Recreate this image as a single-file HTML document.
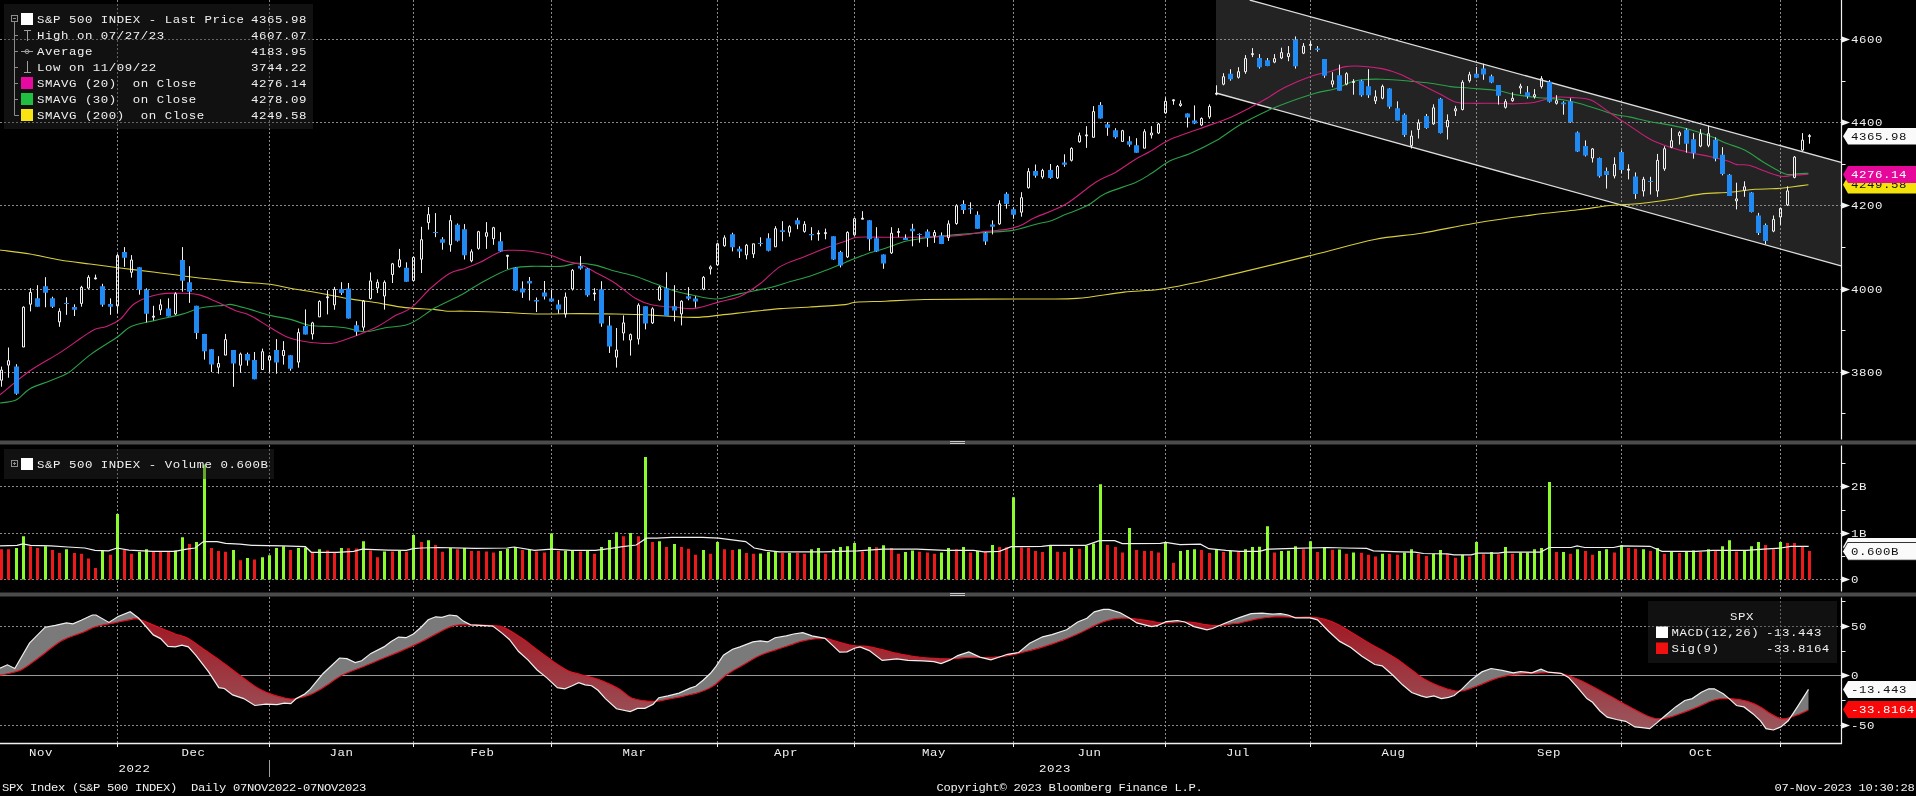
<!DOCTYPE html>
<html><head><meta charset="utf-8"><title>SPX Chart</title>
<style>html,body{margin:0;padding:0;background:#000;overflow:hidden}svg{display:block}text{-webkit-font-smoothing:antialiased}</style>
</head><body>
<svg width="1916" height="796" viewBox="0 0 1916 796" shape-rendering="auto">
<defs>
<linearGradient id="rg" gradientUnits="userSpaceOnUse" x1="0" y1="605" x2="0" y2="735"><stop offset="0" stop-color="#a0101c"/><stop offset="1" stop-color="#9a5a60"/></linearGradient>
<clipPath id="cp_price"><rect x="0" y="0" width="1841" height="440"/></clipPath>
<clipPath id="cp_vol"><rect x="0" y="445" width="1841" height="148"/></clipPath>
<clipPath id="cp_above"><polygon points="-5.0,597.0 -5.0,675.2 0.0,675.2 3.5,674.5 8.6,673.5 14.0,672.2 18.5,670.9 21.7,669.6 24.2,668.1 26.7,666.5 29.5,664.5 32.8,662.1 36.4,659.4 40.3,656.4 44.3,653.4 48.6,650.1 53.2,646.5 58.0,643.1 62.8,640.1 67.9,637.7 73.3,635.7 78.5,633.9 83.1,632.2 86.7,630.6 89.7,629.1 92.6,627.8 96.0,626.6 100.3,625.5 105.1,624.6 110.0,623.7 114.5,622.9 118.6,622.0 122.4,621.2 126.0,620.4 129.2,619.8 131.7,619.3 133.6,618.8 135.7,618.7 138.5,619.2 142.5,620.5 147.1,622.4 152.1,624.6 156.9,626.6 161.6,628.5 166.5,630.5 171.2,632.3 175.4,634.0 179.0,635.2 182.1,636.1 185.1,637.1 188.3,638.6 191.8,640.7 195.4,643.2 199.1,645.9 203.1,648.8 207.5,651.8 212.1,655.0 216.9,658.3 221.6,661.7 226.2,665.1 230.8,668.6 235.4,672.1 240.0,675.5 244.7,679.0 249.5,682.5 254.1,685.7 258.5,688.5 262.5,690.6 266.1,692.3 269.7,693.6 273.3,694.9 277.2,696.1 281.1,697.1 284.8,698.0 288.0,698.6 290.2,699.0 291.7,699.1 293.2,699.0 295.4,698.6 298.6,698.0 302.3,697.1 306.3,696.0 310.2,694.6 313.8,693.0 317.4,691.0 321.0,688.9 324.8,686.6 328.7,684.0 332.7,681.1 336.9,678.2 341.4,675.5 346.2,673.2 351.2,671.2 356.4,669.3 361.7,667.2 367.1,665.0 372.7,662.7 378.3,660.3 383.9,658.0 389.5,655.7 395.2,653.4 400.7,651.1 406.0,648.8 411.0,646.6 415.7,644.4 420.2,642.2 424.5,640.1 428.4,638.0 432.1,636.0 435.6,634.1 439.2,632.2 442.9,630.3 446.5,628.5 450.2,626.9 454.0,625.7 457.9,625.0 461.8,624.8 466.0,624.8 470.6,624.8 476.0,624.9 482.0,625.1 487.9,625.4 492.8,625.7 496.2,625.9 498.6,626.0 500.9,626.4 503.9,627.5 508.0,629.6 512.6,632.3 517.5,635.4 522.3,638.6 526.8,641.8 531.2,645.2 535.8,648.8 540.8,652.5 546.7,656.7 553.1,661.4 559.5,665.7 564.8,669.1 568.6,671.1 571.5,672.1 574.2,672.8 577.7,673.7 582.3,675.0 587.6,676.3 593.0,677.8 598.0,679.3 602.6,681.1 607.2,683.0 611.3,684.9 614.7,686.6 617.1,687.9 618.8,688.8 620.3,689.8 622.0,691.0 624.1,692.6 626.3,694.4 628.6,696.2 631.1,697.7 633.7,698.7 636.4,699.5 639.3,700.0 642.2,700.5 645.3,700.9 648.5,701.3 651.8,701.4 655.1,701.4 658.2,701.1 661.3,700.6 664.5,699.9 668.0,699.2 671.9,698.5 676.2,697.6 680.5,696.8 684.6,695.9 688.5,695.0 692.2,694.2 695.9,693.3 699.4,692.2 702.8,691.0 706.1,689.7 709.2,688.3 712.3,686.6 715.3,684.5 718.2,682.0 720.9,679.5 723.4,677.4 725.3,675.8 726.9,674.6 728.5,673.4 730.8,671.9 734.0,670.0 737.7,667.9 741.7,665.7 745.6,663.5 749.3,661.3 753.0,659.1 756.6,657.0 760.3,655.2 764.0,653.7 767.7,652.4 771.4,651.3 775.1,650.1 778.9,648.8 782.7,647.5 786.5,646.3 789.9,645.1 792.9,644.1 795.5,643.1 798.1,642.2 800.9,641.4 804.1,640.7 807.4,640.0 810.7,639.5 813.9,639.0 816.8,638.6 819.5,638.3 822.1,638.1 825.0,638.3 828.1,638.9 831.2,639.8 834.5,640.9 837.9,641.9 841.4,642.9 845.1,643.9 848.9,644.9 852.6,645.6 856.3,645.9 860.0,646.0 863.7,646.1 867.4,646.4 871.1,647.0 874.8,647.9 878.5,648.8 882.2,649.7 885.8,650.6 889.4,651.6 893.0,652.5 897.0,653.4 901.4,654.3 906.2,655.2 911.0,656.0 915.4,656.7 919.3,657.2 922.8,657.5 926.3,657.8 930.2,658.0 934.5,658.3 939.1,658.6 943.8,658.8 948.5,658.9 953.0,658.7 957.5,658.3 962.0,657.8 966.9,657.5 972.3,657.4 978.0,657.5 983.7,657.6 989.1,657.5 994.0,657.2 998.5,656.8 1003.0,656.3 1007.5,655.6 1012.1,654.8 1016.7,653.8 1021.4,652.6 1026.0,651.5 1030.6,650.3 1035.3,649.1 1039.9,647.8 1044.5,646.4 1049.1,644.9 1053.7,643.4 1058.3,641.8 1062.9,640.1 1067.6,638.2 1072.4,636.2 1077.0,634.2 1081.4,632.2 1085.4,630.2 1089.3,628.3 1092.9,626.4 1096.2,624.8 1099.2,623.5 1101.9,622.3 1104.5,621.4 1107.2,620.5 1110.0,619.8 1112.7,619.1 1115.5,618.6 1118.3,618.3 1121.0,618.1 1123.6,618.0 1126.4,618.1 1129.4,618.3 1132.8,618.6 1136.3,619.1 1140.2,619.6 1144.2,620.2 1148.6,620.9 1153.3,621.7 1158.0,622.5 1162.6,622.9 1167.0,622.9 1171.3,622.6 1175.4,622.2 1179.3,622.0 1182.7,622.0 1185.9,622.0 1188.9,622.1 1192.2,622.4 1195.9,622.9 1199.7,623.6 1203.5,624.3 1207.0,624.8 1209.9,625.2 1212.4,625.5 1215.0,625.7 1218.1,625.7 1222.1,625.3 1226.8,624.7 1231.2,624.0 1234.7,623.5 1236.5,623.3 1237.2,623.3 1238.0,623.3 1240.0,622.9 1243.7,622.0 1248.4,620.9 1253.6,619.7 1258.5,618.7 1263.1,618.0 1267.7,617.5 1272.3,617.0 1276.9,616.8 1281.5,616.8 1286.1,617.0 1290.8,617.2 1295.4,617.4 1300.1,617.4 1304.9,617.2 1309.5,617.2 1313.9,617.4 1317.8,617.9 1321.5,618.5 1325.0,619.4 1328.6,620.5 1332.0,621.8 1335.3,623.2 1338.9,625.0 1343.4,627.5 1349.1,630.9 1355.7,634.9 1362.6,639.2 1369.2,643.2 1375.5,646.7 1381.7,650.1 1387.6,653.4 1393.2,656.7 1398.3,660.1 1403.1,663.6 1407.6,667.0 1411.7,670.0 1415.2,672.6 1418.1,674.9 1421.1,677.1 1424.6,679.2 1428.9,681.5 1433.6,683.8 1438.5,685.9 1443.1,687.6 1447.4,689.0 1451.5,690.2 1455.6,691.0 1459.7,691.2 1463.8,690.6 1467.9,689.4 1472.0,687.9 1476.3,686.3 1480.8,684.6 1485.4,682.6 1490.1,680.6 1494.8,678.9 1499.3,677.5 1503.8,676.4 1508.4,675.4 1513.3,674.6 1518.7,674.1 1524.6,673.7 1530.3,673.5 1535.4,673.3 1539.7,673.0 1543.4,672.8 1546.8,672.6 1550.0,672.6 1552.9,672.6 1555.4,672.8 1558.0,673.1 1561.1,673.7 1564.8,674.7 1568.9,675.9 1573.3,677.5 1577.7,679.2 1582.2,681.2 1586.8,683.6 1591.5,686.0 1596.2,688.5 1600.8,691.0 1605.4,693.5 1610.0,696.0 1614.6,698.6 1619.2,701.2 1623.8,703.8 1628.5,706.3 1633.1,708.8 1637.9,711.3 1642.7,713.8 1647.4,716.0 1651.6,717.6 1655.2,718.5 1658.3,718.8 1661.3,718.8 1664.5,718.4 1668.0,717.7 1671.5,716.7 1675.2,715.4 1679.2,714.0 1683.6,712.4 1688.4,710.6 1693.2,708.7 1697.7,706.9 1701.7,705.1 1705.5,703.4 1709.0,701.8 1712.5,700.5 1715.7,699.6 1718.7,699.0 1721.8,698.7 1725.4,698.6 1729.7,698.7 1734.5,699.1 1739.4,699.7 1743.9,700.5 1747.9,701.6 1751.6,702.9 1755.1,704.3 1758.6,706.0 1762.0,708.0 1765.3,710.2 1768.5,712.4 1771.6,714.3 1774.5,715.9 1777.2,717.3 1779.9,718.3 1782.6,718.9 1785.4,718.8 1788.3,718.1 1791.0,717.1 1793.7,716.2 1796.2,715.3 1798.7,714.4 1801.0,713.4 1803.0,712.5 1804.8,711.7 1806.3,710.9 1807.6,710.2 1808.5,709.7 1813.5,709.7 1813.5,597.0"/></clipPath>
<clipPath id="cp_below"><polygon points="-5.0,744.0 -5.0,675.2 0.0,675.2 3.5,674.5 8.6,673.5 14.0,672.2 18.5,670.9 21.7,669.6 24.2,668.1 26.7,666.5 29.5,664.5 32.8,662.1 36.4,659.4 40.3,656.4 44.3,653.4 48.6,650.1 53.2,646.5 58.0,643.1 62.8,640.1 67.9,637.7 73.3,635.7 78.5,633.9 83.1,632.2 86.7,630.6 89.7,629.1 92.6,627.8 96.0,626.6 100.3,625.5 105.1,624.6 110.0,623.7 114.5,622.9 118.6,622.0 122.4,621.2 126.0,620.4 129.2,619.8 131.7,619.3 133.6,618.8 135.7,618.7 138.5,619.2 142.5,620.5 147.1,622.4 152.1,624.6 156.9,626.6 161.6,628.5 166.5,630.5 171.2,632.3 175.4,634.0 179.0,635.2 182.1,636.1 185.1,637.1 188.3,638.6 191.8,640.7 195.4,643.2 199.1,645.9 203.1,648.8 207.5,651.8 212.1,655.0 216.9,658.3 221.6,661.7 226.2,665.1 230.8,668.6 235.4,672.1 240.0,675.5 244.7,679.0 249.5,682.5 254.1,685.7 258.5,688.5 262.5,690.6 266.1,692.3 269.7,693.6 273.3,694.9 277.2,696.1 281.1,697.1 284.8,698.0 288.0,698.6 290.2,699.0 291.7,699.1 293.2,699.0 295.4,698.6 298.6,698.0 302.3,697.1 306.3,696.0 310.2,694.6 313.8,693.0 317.4,691.0 321.0,688.9 324.8,686.6 328.7,684.0 332.7,681.1 336.9,678.2 341.4,675.5 346.2,673.2 351.2,671.2 356.4,669.3 361.7,667.2 367.1,665.0 372.7,662.7 378.3,660.3 383.9,658.0 389.5,655.7 395.2,653.4 400.7,651.1 406.0,648.8 411.0,646.6 415.7,644.4 420.2,642.2 424.5,640.1 428.4,638.0 432.1,636.0 435.6,634.1 439.2,632.2 442.9,630.3 446.5,628.5 450.2,626.9 454.0,625.7 457.9,625.0 461.8,624.8 466.0,624.8 470.6,624.8 476.0,624.9 482.0,625.1 487.9,625.4 492.8,625.7 496.2,625.9 498.6,626.0 500.9,626.4 503.9,627.5 508.0,629.6 512.6,632.3 517.5,635.4 522.3,638.6 526.8,641.8 531.2,645.2 535.8,648.8 540.8,652.5 546.7,656.7 553.1,661.4 559.5,665.7 564.8,669.1 568.6,671.1 571.5,672.1 574.2,672.8 577.7,673.7 582.3,675.0 587.6,676.3 593.0,677.8 598.0,679.3 602.6,681.1 607.2,683.0 611.3,684.9 614.7,686.6 617.1,687.9 618.8,688.8 620.3,689.8 622.0,691.0 624.1,692.6 626.3,694.4 628.6,696.2 631.1,697.7 633.7,698.7 636.4,699.5 639.3,700.0 642.2,700.5 645.3,700.9 648.5,701.3 651.8,701.4 655.1,701.4 658.2,701.1 661.3,700.6 664.5,699.9 668.0,699.2 671.9,698.5 676.2,697.6 680.5,696.8 684.6,695.9 688.5,695.0 692.2,694.2 695.9,693.3 699.4,692.2 702.8,691.0 706.1,689.7 709.2,688.3 712.3,686.6 715.3,684.5 718.2,682.0 720.9,679.5 723.4,677.4 725.3,675.8 726.9,674.6 728.5,673.4 730.8,671.9 734.0,670.0 737.7,667.9 741.7,665.7 745.6,663.5 749.3,661.3 753.0,659.1 756.6,657.0 760.3,655.2 764.0,653.7 767.7,652.4 771.4,651.3 775.1,650.1 778.9,648.8 782.7,647.5 786.5,646.3 789.9,645.1 792.9,644.1 795.5,643.1 798.1,642.2 800.9,641.4 804.1,640.7 807.4,640.0 810.7,639.5 813.9,639.0 816.8,638.6 819.5,638.3 822.1,638.1 825.0,638.3 828.1,638.9 831.2,639.8 834.5,640.9 837.9,641.9 841.4,642.9 845.1,643.9 848.9,644.9 852.6,645.6 856.3,645.9 860.0,646.0 863.7,646.1 867.4,646.4 871.1,647.0 874.8,647.9 878.5,648.8 882.2,649.7 885.8,650.6 889.4,651.6 893.0,652.5 897.0,653.4 901.4,654.3 906.2,655.2 911.0,656.0 915.4,656.7 919.3,657.2 922.8,657.5 926.3,657.8 930.2,658.0 934.5,658.3 939.1,658.6 943.8,658.8 948.5,658.9 953.0,658.7 957.5,658.3 962.0,657.8 966.9,657.5 972.3,657.4 978.0,657.5 983.7,657.6 989.1,657.5 994.0,657.2 998.5,656.8 1003.0,656.3 1007.5,655.6 1012.1,654.8 1016.7,653.8 1021.4,652.6 1026.0,651.5 1030.6,650.3 1035.3,649.1 1039.9,647.8 1044.5,646.4 1049.1,644.9 1053.7,643.4 1058.3,641.8 1062.9,640.1 1067.6,638.2 1072.4,636.2 1077.0,634.2 1081.4,632.2 1085.4,630.2 1089.3,628.3 1092.9,626.4 1096.2,624.8 1099.2,623.5 1101.9,622.3 1104.5,621.4 1107.2,620.5 1110.0,619.8 1112.7,619.1 1115.5,618.6 1118.3,618.3 1121.0,618.1 1123.6,618.0 1126.4,618.1 1129.4,618.3 1132.8,618.6 1136.3,619.1 1140.2,619.6 1144.2,620.2 1148.6,620.9 1153.3,621.7 1158.0,622.5 1162.6,622.9 1167.0,622.9 1171.3,622.6 1175.4,622.2 1179.3,622.0 1182.7,622.0 1185.9,622.0 1188.9,622.1 1192.2,622.4 1195.9,622.9 1199.7,623.6 1203.5,624.3 1207.0,624.8 1209.9,625.2 1212.4,625.5 1215.0,625.7 1218.1,625.7 1222.1,625.3 1226.8,624.7 1231.2,624.0 1234.7,623.5 1236.5,623.3 1237.2,623.3 1238.0,623.3 1240.0,622.9 1243.7,622.0 1248.4,620.9 1253.6,619.7 1258.5,618.7 1263.1,618.0 1267.7,617.5 1272.3,617.0 1276.9,616.8 1281.5,616.8 1286.1,617.0 1290.8,617.2 1295.4,617.4 1300.1,617.4 1304.9,617.2 1309.5,617.2 1313.9,617.4 1317.8,617.9 1321.5,618.5 1325.0,619.4 1328.6,620.5 1332.0,621.8 1335.3,623.2 1338.9,625.0 1343.4,627.5 1349.1,630.9 1355.7,634.9 1362.6,639.2 1369.2,643.2 1375.5,646.7 1381.7,650.1 1387.6,653.4 1393.2,656.7 1398.3,660.1 1403.1,663.6 1407.6,667.0 1411.7,670.0 1415.2,672.6 1418.1,674.9 1421.1,677.1 1424.6,679.2 1428.9,681.5 1433.6,683.8 1438.5,685.9 1443.1,687.6 1447.4,689.0 1451.5,690.2 1455.6,691.0 1459.7,691.2 1463.8,690.6 1467.9,689.4 1472.0,687.9 1476.3,686.3 1480.8,684.6 1485.4,682.6 1490.1,680.6 1494.8,678.9 1499.3,677.5 1503.8,676.4 1508.4,675.4 1513.3,674.6 1518.7,674.1 1524.6,673.7 1530.3,673.5 1535.4,673.3 1539.7,673.0 1543.4,672.8 1546.8,672.6 1550.0,672.6 1552.9,672.6 1555.4,672.8 1558.0,673.1 1561.1,673.7 1564.8,674.7 1568.9,675.9 1573.3,677.5 1577.7,679.2 1582.2,681.2 1586.8,683.6 1591.5,686.0 1596.2,688.5 1600.8,691.0 1605.4,693.5 1610.0,696.0 1614.6,698.6 1619.2,701.2 1623.8,703.8 1628.5,706.3 1633.1,708.8 1637.9,711.3 1642.7,713.8 1647.4,716.0 1651.6,717.6 1655.2,718.5 1658.3,718.8 1661.3,718.8 1664.5,718.4 1668.0,717.7 1671.5,716.7 1675.2,715.4 1679.2,714.0 1683.6,712.4 1688.4,710.6 1693.2,708.7 1697.7,706.9 1701.7,705.1 1705.5,703.4 1709.0,701.8 1712.5,700.5 1715.7,699.6 1718.7,699.0 1721.8,698.7 1725.4,698.6 1729.7,698.7 1734.5,699.1 1739.4,699.7 1743.9,700.5 1747.9,701.6 1751.6,702.9 1755.1,704.3 1758.6,706.0 1762.0,708.0 1765.3,710.2 1768.5,712.4 1771.6,714.3 1774.5,715.9 1777.2,717.3 1779.9,718.3 1782.6,718.9 1785.4,718.8 1788.3,718.1 1791.0,717.1 1793.7,716.2 1796.2,715.3 1798.7,714.4 1801.0,713.4 1803.0,712.5 1804.8,711.7 1806.3,710.9 1807.6,710.2 1808.5,709.7 1813.5,709.7 1813.5,744.0"/></clipPath>
</defs>
<rect x="0" y="0" width="1916" height="796" fill="#000"/>
<polygon points="1216,0 1249.7,0 1841,162.3 1841,265.8 1216,93.0" fill="#232323"/>
<line x1="0" y1="39.5" x2="1841" y2="39.5" stroke="#8a8a8a" stroke-width="1" stroke-dasharray="2 2"/>
<line x1="0" y1="122.5" x2="1841" y2="122.5" stroke="#8a8a8a" stroke-width="1" stroke-dasharray="2 2"/>
<line x1="0" y1="205.5" x2="1841" y2="205.5" stroke="#8a8a8a" stroke-width="1" stroke-dasharray="2 2"/>
<line x1="0" y1="289.5" x2="1841" y2="289.5" stroke="#8a8a8a" stroke-width="1" stroke-dasharray="2 2"/>
<line x1="0" y1="372.5" x2="1841" y2="372.5" stroke="#8a8a8a" stroke-width="1" stroke-dasharray="2 2"/>
<line x1="117.5" y1="0" x2="117.5" y2="440" stroke="#8a8a8a" stroke-width="1" stroke-dasharray="2 2"/>
<line x1="269.5" y1="0" x2="269.5" y2="440" stroke="#8a8a8a" stroke-width="1" stroke-dasharray="2 2"/>
<line x1="413.5" y1="0" x2="413.5" y2="440" stroke="#8a8a8a" stroke-width="1" stroke-dasharray="2 2"/>
<line x1="551.5" y1="0" x2="551.5" y2="440" stroke="#8a8a8a" stroke-width="1" stroke-dasharray="2 2"/>
<line x1="717.5" y1="0" x2="717.5" y2="440" stroke="#8a8a8a" stroke-width="1" stroke-dasharray="2 2"/>
<line x1="854.5" y1="0" x2="854.5" y2="440" stroke="#8a8a8a" stroke-width="1" stroke-dasharray="2 2"/>
<line x1="1013.5" y1="0" x2="1013.5" y2="440" stroke="#8a8a8a" stroke-width="1" stroke-dasharray="2 2"/>
<line x1="1165.5" y1="0" x2="1165.5" y2="440" stroke="#8a8a8a" stroke-width="1" stroke-dasharray="2 2"/>
<line x1="1310.5" y1="0" x2="1310.5" y2="440" stroke="#8a8a8a" stroke-width="1" stroke-dasharray="2 2"/>
<line x1="1476.5" y1="0" x2="1476.5" y2="440" stroke="#8a8a8a" stroke-width="1" stroke-dasharray="2 2"/>
<line x1="1621.5" y1="0" x2="1621.5" y2="440" stroke="#8a8a8a" stroke-width="1" stroke-dasharray="2 2"/>
<line x1="1780.5" y1="0" x2="1780.5" y2="440" stroke="#8a8a8a" stroke-width="1" stroke-dasharray="2 2"/>
<line x1="1249.7" y1="0.0" x2="1841" y2="162.3" stroke="#dedede" stroke-width="1.3"/>
<line x1="1216.0" y1="93.0" x2="1841" y2="265.8" stroke="#dedede" stroke-width="1.3"/>
<g clip-path="url(#cp_price)" fill="none" stroke-width="1.1" stroke-linejoin="round">
<path d="M0.0,250.0C5.0,250.7 20.0,252.3 30.0,254.0C40.0,255.7 50.0,258.3 60.0,260.0C70.0,261.7 80.0,262.7 90.0,264.0C100.0,265.3 109.1,266.6 120.0,268.0C130.9,269.4 144.3,270.8 155.2,272.2C166.1,273.6 172.1,274.6 185.4,276.2C198.7,277.8 220.9,280.3 235.0,281.6C249.1,282.9 261.0,283.1 270.2,284.2C279.4,285.3 281.9,286.8 290.3,288.3C298.7,289.8 310.6,291.5 320.5,293.3C330.4,295.1 340.9,297.4 350.0,298.9C359.1,300.4 366.0,301.1 375.2,302.5C384.4,303.9 395.2,306.4 405.3,307.6C415.4,308.8 428.5,309.0 435.5,309.6C442.5,310.2 442.6,310.9 447.5,311.2C452.4,311.5 456.2,311.0 465.0,311.2C473.8,311.4 487.6,311.7 500.2,312.2C512.8,312.7 527.1,313.8 540.4,314.0C553.7,314.2 567.5,313.6 580.0,313.6C592.5,313.6 604.3,313.8 615.2,314.0C626.1,314.2 637.0,314.5 645.4,314.8C653.8,315.1 657.2,315.6 665.5,316.0C673.8,316.4 685.9,317.5 695.0,317.4C704.1,317.2 711.0,316.1 720.2,315.1C729.4,314.2 740.2,312.8 750.3,311.7C760.3,310.6 770.5,309.4 780.5,308.6C790.5,307.8 799.2,307.7 810.0,307.0C820.8,306.3 837.7,305.4 845.2,304.6C852.8,303.8 848.6,302.8 855.3,302.2C862.0,301.6 873.8,301.6 885.4,301.2C897.0,300.8 900.9,299.9 925.0,299.5C949.1,299.1 1004.7,299.2 1030.0,299.0C1055.3,298.8 1061.3,299.5 1077.0,298.4C1092.7,297.2 1109.9,293.7 1124.0,292.1C1138.1,290.5 1145.8,291.4 1161.5,289.0C1177.2,286.6 1192.9,283.3 1218.0,277.7C1243.1,272.1 1285.8,261.6 1311.9,255.2C1338.0,248.8 1356.2,243.2 1374.5,239.5C1392.8,235.8 1404.8,235.9 1421.5,233.2C1438.2,230.5 1456.4,226.2 1474.7,223.2C1493.0,220.2 1513.9,217.3 1531.1,215.1C1548.3,212.9 1564.8,211.4 1578.0,209.8C1591.2,208.2 1599.6,206.6 1610.0,205.5C1620.4,204.4 1630.2,204.5 1640.2,203.5C1650.2,202.5 1660.2,201.1 1670.3,199.5C1680.3,197.9 1690.5,195.3 1700.5,194.1C1710.5,192.9 1720.9,193.0 1730.0,192.2C1739.1,191.4 1746.7,190.0 1755.2,189.3C1763.8,188.7 1775.0,188.7 1781.3,188.3C1787.6,187.9 1788.8,187.3 1793.3,186.7C1797.8,186.1 1805.9,185.0 1808.4,184.7" stroke="#d8ce3a"/>
<path d="M0.0,403.0C2.7,402.5 11.0,402.4 16.0,400.0C21.0,397.6 24.3,391.9 30.0,388.7C35.7,385.5 43.9,383.4 50.3,380.7C56.7,378.0 61.6,377.0 68.3,372.7C75.0,368.4 82.4,360.5 90.5,354.6C98.6,348.7 110.2,342.0 117.0,337.3C123.8,332.6 124.7,329.3 131.1,326.5C137.5,323.7 146.8,322.4 155.2,320.4C163.6,318.4 173.6,316.5 181.3,314.4C189.0,312.3 194.4,309.3 201.4,307.8C208.4,306.3 218.4,305.9 223.5,305.4C228.6,304.9 227.6,303.9 232.0,304.6C236.4,305.3 243.7,307.6 250.1,309.4C256.5,311.2 263.5,313.7 270.2,315.4C276.9,317.1 283.6,317.7 290.3,319.4C297.0,321.1 303.7,324.3 310.4,325.5C317.1,326.7 324.7,326.1 330.5,326.5C336.3,326.9 339.2,326.8 345.0,327.7C350.8,328.6 358.4,331.7 365.1,331.7C371.8,331.7 378.5,328.8 385.2,327.7C391.9,326.6 399.9,326.6 405.3,325.3C410.7,324.0 412.4,322.6 417.4,319.6C422.4,316.7 428.1,311.8 435.5,307.6C442.9,303.4 454.6,298.5 462.0,294.5C469.4,290.5 472.4,287.6 480.1,283.4C487.8,279.2 499.8,272.2 508.2,269.4C516.6,266.6 521.7,266.9 530.4,266.4C539.1,265.9 552.7,266.9 560.5,266.4C568.3,265.9 571.2,263.5 577.0,263.3C582.8,263.1 588.7,263.8 595.1,265.1C601.5,266.4 608.5,269.4 615.2,271.2C621.9,273.0 628.6,274.1 635.3,276.2C642.0,278.3 648.7,281.3 655.4,283.8C662.1,286.3 669.4,289.4 675.5,291.3C681.6,293.2 685.2,293.7 692.0,295.0C698.8,296.3 708.1,299.2 716.1,299.0C724.1,298.8 731.2,295.5 740.3,293.6C749.3,291.7 762.0,289.5 770.4,287.5C778.8,285.5 784.4,283.2 790.5,281.5C796.6,279.8 801.2,278.8 807.0,277.0C812.8,275.2 818.7,272.9 825.1,270.5C831.5,268.1 838.5,265.1 845.2,262.4C851.9,259.7 858.6,256.8 865.3,254.4C872.0,252.1 878.7,250.5 885.4,248.3C892.1,246.1 899.4,243.0 905.5,241.3C911.6,239.7 912.9,239.6 922.0,238.4C931.1,237.2 949.5,235.4 960.2,234.4C970.9,233.4 977.6,233.1 986.3,232.4C995.0,231.7 1004.0,231.8 1012.5,230.4C1021.0,229.0 1030.6,225.6 1037.0,224.0C1043.4,222.4 1046.4,222.3 1051.1,220.7C1055.8,219.1 1059.2,217.1 1065.2,214.6C1071.2,212.1 1080.6,209.1 1087.3,205.6C1094.0,202.1 1097.4,197.3 1105.4,193.5C1113.4,189.7 1127.7,185.9 1135.5,182.5C1143.3,179.1 1146.2,176.6 1152.0,173.0C1157.8,169.4 1163.7,163.9 1170.1,160.7C1176.5,157.5 1182.5,156.9 1190.2,153.6C1197.9,150.2 1207.9,145.4 1216.3,140.6C1224.7,135.8 1232.0,129.4 1240.5,124.5C1249.0,119.5 1259.6,114.4 1267.0,110.9C1274.4,107.4 1277.0,106.3 1285.1,103.4C1293.1,100.5 1306.9,95.8 1315.3,93.3C1323.7,90.8 1329.7,90.5 1335.4,88.7C1341.1,86.9 1345.1,84.2 1349.4,82.7C1353.8,81.2 1356.1,80.4 1361.5,79.8C1366.9,79.2 1373.9,79.0 1382.0,79.2C1390.1,79.4 1402.2,80.5 1410.2,81.2C1418.2,81.9 1423.6,82.3 1430.3,83.2C1437.0,84.1 1443.7,85.8 1450.4,86.6C1457.1,87.4 1462.7,87.5 1470.5,88.2C1478.3,88.9 1489.6,89.4 1497.0,90.5C1504.4,91.6 1508.7,93.5 1515.1,94.6C1521.5,95.7 1526.8,96.3 1535.2,97.2C1543.6,98.1 1557.0,98.9 1565.4,100.2C1573.8,101.5 1577.7,103.0 1585.5,105.2C1593.3,107.5 1604.6,111.7 1612.0,113.7C1619.4,115.7 1623.7,115.8 1630.1,117.1C1636.5,118.4 1643.5,120.4 1650.2,121.7C1656.9,123.0 1663.6,123.8 1670.3,125.1C1677.0,126.4 1683.7,127.8 1690.4,129.7C1697.1,131.5 1704.4,133.9 1710.5,136.2C1716.6,138.5 1721.2,141.3 1727.0,143.6C1732.8,145.9 1738.7,146.9 1745.1,150.2C1751.5,153.5 1758.5,159.2 1765.2,163.2C1771.9,167.1 1779.9,172.1 1785.3,173.9C1790.7,175.7 1793.6,174.0 1797.4,173.9C1801.2,173.8 1806.6,173.4 1808.4,173.3" stroke="#2aa048"/>
<path d="M0.0,394.8C5.0,390.8 20.0,377.7 30.0,370.7C40.0,363.7 51.6,358.0 60.0,352.6C68.4,347.2 74.7,342.4 80.4,338.5C86.2,334.6 90.2,331.4 94.5,329.4C98.8,327.4 102.2,328.1 106.5,326.4C110.8,324.7 115.2,323.2 120.0,319.4C124.8,315.5 128.6,307.5 135.1,303.3C141.6,299.1 151.2,296.0 159.2,294.3C167.2,292.6 176.6,293.2 183.3,293.3C190.0,293.4 194.0,293.6 199.4,294.9C204.8,296.2 209.6,298.7 215.5,301.3C221.4,303.9 229.2,308.0 235.0,310.4C240.8,312.8 244.2,312.5 250.1,315.4C256.0,318.2 263.8,323.8 270.2,327.5C276.6,331.2 282.6,335.2 288.3,337.5C294.0,339.8 297.4,340.5 304.4,341.5C311.4,342.5 323.7,343.8 330.5,343.5C337.3,343.2 337.6,342.3 345.0,339.7C352.4,337.1 366.8,331.7 375.2,327.7C383.6,323.7 389.3,319.0 395.3,315.6C401.3,312.2 405.3,312.3 411.3,307.6C417.3,302.9 425.0,293.2 431.4,287.5C437.8,281.8 443.9,276.6 449.5,273.4C455.1,270.2 459.9,270.2 465.0,268.4C470.1,266.5 474.2,265.1 480.1,262.3C486.0,259.5 494.8,253.7 500.2,251.7C505.6,249.7 507.3,250.4 512.3,250.3C517.3,250.2 524.0,250.5 530.4,251.3C536.8,252.1 544.5,253.6 550.5,255.3C556.5,257.0 561.6,259.8 566.5,261.3C571.4,262.8 575.2,262.5 580.0,264.3C584.8,266.1 589.2,269.1 595.1,272.2C601.0,275.3 608.5,278.8 615.2,283.2C621.9,287.6 629.3,294.7 635.3,298.3C641.3,301.9 644.7,303.2 651.4,304.7C658.1,306.2 668.2,306.7 675.5,307.3C682.8,307.9 687.5,309.3 695.0,308.4C702.5,307.4 712.7,303.6 720.2,301.6C727.8,299.6 733.6,299.2 740.3,296.2C747.0,293.2 753.7,288.5 760.4,283.5C767.1,278.5 773.1,270.9 780.5,266.4C787.9,261.9 797.6,259.4 805.0,256.4C812.4,253.4 818.4,250.8 825.1,248.3C831.8,245.8 839.8,243.1 845.2,241.3C850.6,239.5 850.6,238.0 857.3,237.3C864.0,236.6 874.1,237.4 885.4,237.3C896.7,237.2 912.5,237.3 925.0,237.0C937.5,236.7 950.0,236.3 960.2,235.4C970.4,234.5 978.6,232.4 986.3,231.4C994.0,230.4 1000.7,230.4 1006.4,229.4C1012.1,228.4 1015.7,227.4 1020.5,225.4C1025.3,223.4 1027.5,221.1 1035.0,217.6C1042.5,214.1 1055.2,210.4 1065.2,204.6C1075.2,198.8 1086.9,187.9 1095.3,182.5C1103.7,177.1 1108.7,176.3 1115.4,172.4C1122.1,168.5 1129.7,162.8 1135.5,159.3C1141.3,155.8 1144.2,154.9 1150.0,151.6C1155.8,148.3 1161.7,143.3 1170.1,139.5C1178.5,135.7 1190.2,132.2 1200.3,128.5C1210.3,124.8 1222.0,120.9 1230.4,117.4C1238.8,113.9 1244.4,110.6 1250.5,107.4C1256.6,104.2 1261.2,101.7 1267.0,98.3C1272.8,94.9 1277.7,91.0 1285.1,87.3C1292.5,83.6 1303.5,78.9 1311.2,76.2C1318.9,73.5 1325.6,72.8 1331.3,71.2C1337.0,69.6 1340.4,67.4 1345.4,66.6C1350.4,65.8 1355.4,65.9 1361.5,66.2C1367.6,66.5 1375.6,67.3 1382.0,68.6C1388.4,69.9 1393.7,71.6 1400.1,74.2C1406.5,76.8 1413.5,80.9 1420.2,84.2C1426.9,87.5 1434.3,91.3 1440.3,94.3C1446.3,97.3 1451.4,100.8 1456.4,102.3C1461.4,103.8 1464.1,103.1 1470.5,103.3C1476.9,103.5 1487.6,103.1 1495.0,103.2C1502.4,103.3 1508.4,104.0 1515.1,103.8C1521.8,103.6 1528.5,103.3 1535.2,102.2C1541.9,101.1 1548.6,97.9 1555.3,97.2C1562.0,96.5 1569.4,97.3 1575.4,97.8C1581.4,98.3 1585.4,97.5 1591.5,100.2C1597.6,102.9 1605.6,109.9 1612.0,114.2C1618.4,118.5 1623.7,121.9 1630.1,126.1C1636.5,130.3 1643.5,135.7 1650.2,139.2C1656.9,142.7 1663.6,144.9 1670.3,147.2C1677.0,149.4 1683.7,151.1 1690.4,152.7C1697.1,154.3 1704.4,155.3 1710.5,156.7C1716.6,158.0 1722.6,159.5 1727.0,160.8C1731.4,162.1 1733.4,163.9 1737.1,164.6C1740.8,165.3 1744.4,164.1 1749.1,165.2C1753.8,166.3 1759.8,169.5 1765.2,171.3C1770.6,173.2 1776.6,175.6 1781.3,176.3C1786.0,177.0 1788.8,175.6 1793.3,175.3C1797.8,175.0 1805.9,174.5 1808.4,174.3" stroke="#cc1f7a"/>
</g>
<path d="M1.5 366.6V370.1M1.5 380.2V386.7M8.5 347.5V360.7M8.5 365.1V377.7M16.5 364.2V394.8M23.5 306.3V307.2M30.5 288.2V292.4M30.5 304.2V311.4M37.5 285.2V306.7M45.5 277.2V307.3M52.5 296.7V308.0M59.5 308.3V311.3M59.5 321.9V326.8M66.5 297.3V314.8M74.5 304.3V316.0M81.5 285.8V287.3M81.5 303.4V306.7M88.5 275.2V277.3M88.5 288.1V289.2M95.5 274.6V279.4M102.5 283.8V306.7M110.5 298.3V314.8M117.5 254.0V255.6M117.5 305.9V313.4M124.5 247.1V266.8M131.5 255.1V260.0M131.5 272.3V277.6M139.5 267.2V294.7M146.5 288.3V322.4M153.5 305.8V320.4M160.5 299.3V304.8M160.5 309.9V315.0M168.5 298.3V316.4M175.5 292.3V293.8M175.5 313.9V315.0M182.5 247.1V291.7M189.5 266.2V302.9M196.5 305.8V339.1M204.5 333.9V359.6M211.5 349.2V372.1M218.5 356.2V363.5M218.5 367.2V373.7M225.5 333.9V339.6M233.5 350.0V386.8M240.5 352.6V354.1M240.5 365.2V372.7M247.5 352.6V365.7M254.5 352.0V379.3M262.5 348.6V351.7M269.5 355.2V356.1M269.5 360.1V372.7M276.5 339.1V373.7M283.5 341.1V350.5M283.5 355.5V364.6M290.5 355.2V370.7M298.5 328.5V332.6M298.5 362.1V367.7M305.5 309.4V334.5M312.5 321.8V322.9M312.5 334.0V339.5M319.5 300.3V301.4M327.5 290.3V314.4M334.5 286.9V289.4M334.5 304.9V309.8M341.5 282.2V294.9M348.5 283.0V318.6M356.5 321.2V335.7M363.5 300.0V301.0M363.5 327.2V330.7M370.5 272.4V280.9M370.5 298.6V299.5M377.5 279.4V282.3M377.5 288.0V293.1M384.5 280.4V282.3M384.5 296.0V309.6M392.5 262.9V263.8M392.5 274.5V283.0M399.5 248.9V259.8M399.5 266.5V267.8M406.5 262.3V281.8M413.5 256.3V257.4M413.5 280.5V281.4M421.5 226.8V239.7M421.5 259.2V273.0M428.5 207.1V214.6M428.5 222.6V229.6M435.5 213.1V237.2M442.5 237.2V249.7M450.5 215.1V220.6M450.5 244.8V251.7M457.5 223.5V241.6M464.5 224.1V259.5M471.5 249.3V251.8M471.5 260.8V262.3M478.5 230.8V231.7M478.5 248.4V249.7M486.5 222.1V232.7M486.5 236.3V248.9M493.5 226.8V227.7M493.5 238.7V244.8M500.5 232.2V251.7M507.5 254.9V269.0M515.5 267.0V291.0M522.5 281.4V297.9M529.5 277.0V300.5M536.5 297.5V312.0M544.5 281.0V299.5M551.5 289.9V301.9M558.5 299.9V313.6M565.5 292.5V297.0M565.5 314.1V317.6M572.5 269.0V270.3M572.5 289.0V290.5M580.5 256.1V269.7M587.5 268.1V296.7M594.5 288.2V300.7M601.5 281.2V326.8M609.5 316.0V353.0M616.5 328.0V350.0M616.5 357.1V367.6M623.5 315.4V322.9M623.5 333.0V340.5M630.5 333.5V334.6M630.5 340.0V355.6M638.5 303.3V305.2M638.5 339.0V344.5M645.5 306.3V329.4M652.5 307.3V308.8M652.5 322.9V324.0M659.5 285.8V287.1M659.5 299.8V300.7M666.5 272.2V316.0M674.5 285.2V321.4M681.5 300.3V301.2M681.5 313.9V325.4M688.5 287.2V300.3M695.5 296.2V307.6M703.5 276.1V277.4M703.5 289.0V290.2M710.5 265.4V266.9M710.5 268.9V274.5M717.5 242.7V243.8M717.5 264.9V266.0M724.5 235.3V237.8M724.5 245.8V246.7M732.5 232.7V251.4M739.5 246.3V258.0M746.5 243.9V245.2M746.5 254.9V259.4M753.5 253.9V258.0M760.5 237.3V246.3M768.5 233.3V251.4M775.5 226.2V228.7M782.5 221.2V241.3M789.5 225.2V226.7M789.5 232.2V236.7M797.5 217.8V229.2M804.5 221.2V224.3M804.5 231.4V232.7M811.5 227.2V240.3M818.5 230.3V240.7M825.5 228.6V239.3M833.5 236.3V260.0M840.5 250.8V267.4M847.5 231.3V232.4M847.5 256.9V258.0M854.5 217.8V218.7M854.5 234.8V235.9M862.5 211.2V219.2M869.5 220.2V250.8M876.5 227.2V252.0M883.5 254.4V268.8M891.5 227.2V233.2M891.5 252.9V254.0M898.5 228.2V237.3M905.5 234.3V239.9M912.5 223.8V246.3M919.5 233.3V242.7M927.5 229.4V246.9M934.5 230.0V232.5M934.5 235.9V242.9M941.5 232.4V244.1M948.5 220.4V223.9M948.5 237.5V240.9M956.5 204.3V205.8M956.5 223.5V224.8M963.5 200.3V213.9M970.5 202.3V213.9M977.5 211.3V228.8M985.5 232.0V244.9M992.5 220.4V234.4M999.5 200.3V203.8M999.5 223.9V224.8M1006.5 192.2V208.7M1013.5 207.3V218.7M1021.5 192.2V197.7M1021.5 212.2V216.7M1028.5 168.1V171.6M1028.5 187.7V188.6M1035.5 164.5V177.7M1042.5 168.8V170.5M1042.5 176.9V178.8M1050.5 164.0V178.8M1057.5 165.0V166.5M1057.5 177.9V179.0M1064.5 154.3V166.8M1071.5 147.3V148.4M1071.5 160.3V161.5M1079.5 132.6V135.7M1079.5 141.8V142.7M1086.5 126.2V147.9M1093.5 106.1V111.6M1100.5 102.1V118.5M1107.5 122.2V135.8M1115.5 128.2V138.6M1122.5 129.8V130.7M1129.5 136.2V146.7M1136.5 138.2V152.7M1144.5 129.2V131.7M1151.5 126.1V133.0M1151.5 135.0V138.5M1158.5 122.9V124.0M1158.5 133.0V134.1M1165.5 97.3V101.3M1165.5 112.9V114.0M1173.5 99.3V104.8M1180.5 100.4V103.9M1180.5 105.5V106.8M1187.5 113.4V127.5M1194.5 105.4V124.1M1201.5 117.4V118.5M1201.5 125.0V126.1M1209.5 104.4V106.5M1209.5 116.9V118.8M1216.5 85.3V95.3M1223.5 73.2V76.7M1223.5 84.2V85.3M1230.5 69.2V80.7M1238.5 67.2V71.7M1238.5 77.3V78.6M1245.5 55.1V58.6M1245.5 71.7V73.8M1252.5 48.1V57.1M1259.5 54.1V68.6M1267.5 58.0V66.2M1274.5 54.1V58.6M1274.5 62.1V63.2M1281.5 47.7V52.6M1281.5 58.0V59.1M1288.5 46.1V53.6M1288.5 56.6V61.2M1295.5 36.4V68.6M1303.5 43.1V46.2M1303.5 53.2V54.1M1310.5 41.1V50.1M1317.5 46.1V51.7M1324.5 59.1V77.8M1332.5 72.2V80.8M1332.5 84.2V87.3M1339.5 64.6V90.7M1346.5 72.2V73.7M1346.5 84.2V85.3M1353.5 79.2V94.7M1361.5 79.8V96.7M1368.5 69.2V97.9M1375.5 90.3V96.8M1375.5 100.9V104.0M1382.5 84.6V86.4M1382.5 98.2V99.3M1389.5 88.2V108.7M1397.5 101.3V120.4M1404.5 113.4V136.9M1411.5 130.5V136.0M1411.5 145.6V148.5M1418.5 119.4V122.9M1418.5 129.5V138.5M1426.5 114.0V128.8M1433.5 104.3V107.8M1433.5 123.9V124.8M1440.5 97.9V133.5M1447.5 114.4V120.5M1447.5 126.9V139.5M1455.5 105.9V108.8M1455.5 110.9V116.0M1462.5 80.2V82.3M1462.5 109.5V110.4M1469.5 71.8V74.7M1469.5 80.7V82.6M1476.5 67.1V78.2M1483.5 63.7V79.8M1491.5 74.6V83.2M1498.5 85.1V104.6M1505.5 99.2V101.7M1505.5 107.3V108.6M1512.5 92.2V98.3M1512.5 100.7V101.8M1520.5 83.7V86.2M1520.5 88.0V93.8M1527.5 86.1V98.6M1534.5 89.1V94.7M1534.5 96.7V98.6M1541.5 76.1V78.6M1541.5 86.6V88.5M1549.5 80.1V102.6M1556.5 95.2V100.7M1556.5 103.3V104.6M1563.5 101.2V114.7M1570.5 98.2V122.7M1577.5 131.4V152.0M1585.5 140.4V156.5M1592.5 148.0V148.9M1592.5 158.0V162.5M1599.5 157.5V177.6M1606.5 167.5V188.6M1614.5 157.3V164.4M1614.5 175.9V178.4M1621.5 150.3V173.4M1628.5 164.3V179.4M1635.5 172.4V198.9M1643.5 176.8V179.3M1643.5 191.0V196.5M1650.5 176.8V194.5M1657.5 153.9V160.4M1657.5 191.0V196.9M1664.5 146.2V148.7M1664.5 168.8V170.8M1671.5 128.1V140.7M1671.5 147.3V148.2M1679.5 131.2V132.7M1679.5 135.7V144.6M1686.5 128.1V152.7M1693.5 133.2V158.7M1700.5 129.1V133.7M1700.5 146.1V147.2M1708.5 125.7V133.7M1708.5 145.3V147.2M1715.5 137.2V161.3M1722.5 147.2V175.4M1729.5 174.0V196.0M1736.5 182.7V198.9M1736.5 200.9V209.4M1744.5 181.3V186.8M1744.5 190.3V196.8M1751.5 192.0V212.5M1758.5 212.9V235.0M1765.5 223.5V244.2M1773.5 215.5V219.4M1773.5 231.1V232.2M1780.5 207.4V208.5M1780.5 217.0V224.9M1787.5 186.3V190.9M1787.5 204.9V206.0M1794.5 156.0V157.1M1794.5 177.4V178.3M1802.5 133.1V140.2M1802.5 150.1V151.2M1809.5 134.1V143.7" stroke="#f2f2f2" stroke-width="1" fill="none"/>
<path d="M14.0 366.6h5v27.2h-5zM35.0 298.3h5v8.4h-5zM43.0 286.2h5v6.5h-5zM50.0 298.3h5v8.4h-5zM64.0 302.9h5v1.0h-5zM72.0 306.9h5v2.8h-5zM100.0 286.2h5v18.5h-5zM108.0 303.9h5v2.8h-5zM122.0 252.1h5v5.6h-5zM137.0 267.2h5v22.5h-5zM144.0 289.7h5v24.1h-5zM166.0 308.4h5v8.0h-5zM180.0 260.1h5v20.7h-5zM187.0 282.2h5v9.5h-5zM194.0 305.8h5v27.3h-5zM202.0 333.9h5v17.3h-5zM209.0 349.2h5v15.4h-5zM231.0 350.0h5v13.6h-5zM245.0 354.0h5v6.6h-5zM252.0 360.0h5v19.3h-5zM274.0 350.0h5v12.6h-5zM288.0 355.2h5v13.5h-5zM303.0 326.0h5v8.5h-5zM339.0 288.9h5v4.0h-5zM346.0 288.5h5v30.1h-5zM354.0 325.3h5v6.4h-5zM404.0 267.8h5v14.0h-5zM433.0 232.0h5v1.0h-5zM440.0 239.2h5v3.6h-5zM455.0 224.7h5v16.1h-5zM462.0 229.2h5v26.1h-5zM498.0 241.2h5v10.1h-5zM513.0 267.4h5v23.1h-5zM520.0 288.5h5v4.0h-5zM527.0 281.0h5v2.4h-5zM534.0 299.9h5v1.6h-5zM542.0 292.5h5v4.0h-5zM549.0 298.5h5v3.0h-5zM556.0 304.5h5v5.1h-5zM578.0 265.7h5v2.8h-5zM585.0 268.5h5v26.8h-5zM599.0 289.2h5v34.2h-5zM607.0 325.4h5v21.1h-5zM643.0 306.3h5v17.1h-5zM664.0 288.2h5v27.8h-5zM672.0 306.3h5v4.1h-5zM686.0 296.3h5v2.4h-5zM693.0 298.6h5v3.0h-5zM730.0 234.3h5v13.0h-5zM737.0 248.7h5v2.7h-5zM758.0 242.9h5v1.0h-5zM766.0 238.3h5v12.5h-5zM780.0 230.3h5v1.6h-5zM795.0 220.2h5v4.4h-5zM809.0 233.9h5v1.4h-5zM831.0 236.3h5v23.1h-5zM838.0 252.0h5v13.4h-5zM867.0 220.2h5v19.1h-5zM874.0 238.3h5v13.1h-5zM881.0 254.4h5v9.0h-5zM903.0 237.9h5v2.0h-5zM910.0 228.8h5v2.5h-5zM917.0 233.9h5v1.0h-5zM925.0 231.4h5v6.6h-5zM939.0 235.4h5v8.7h-5zM961.0 203.9h5v6.0h-5zM968.0 208.3h5v1.0h-5zM975.0 214.7h5v14.1h-5zM983.0 232.8h5v8.7h-5zM990.0 224.4h5v2.4h-5zM1004.0 193.8h5v10.1h-5zM1011.0 209.3h5v5.4h-5zM1033.0 171.1h5v4.6h-5zM1048.0 170.0h5v8.0h-5zM1062.0 162.4h5v2.4h-5zM1098.0 105.1h5v13.4h-5zM1105.0 124.2h5v3.6h-5zM1113.0 130.2h5v7.0h-5zM1127.0 141.3h5v3.4h-5zM1134.0 145.3h5v7.4h-5zM1185.0 113.4h5v4.0h-5zM1192.0 120.5h5v3.0h-5zM1228.0 73.8h5v5.4h-5zM1257.0 58.1h5v9.1h-5zM1265.0 60.2h5v5.8h-5zM1293.0 39.6h5v26.6h-5zM1315.0 48.5h5v1.6h-5zM1322.0 59.1h5v16.7h-5zM1337.0 75.2h5v15.5h-5zM1359.0 80.7h5v14.6h-5zM1366.0 86.3h5v9.0h-5zM1387.0 88.6h5v18.1h-5zM1395.0 108.3h5v12.1h-5zM1402.0 114.8h5v20.1h-5zM1424.0 116.0h5v12.0h-5zM1438.0 98.7h5v34.2h-5zM1474.0 73.8h5v4.0h-5zM1481.0 68.5h5v6.1h-5zM1489.0 76.2h5v6.4h-5zM1496.0 85.1h5v10.7h-5zM1525.0 92.2h5v4.4h-5zM1547.0 81.7h5v20.1h-5zM1561.0 102.6h5v1.6h-5zM1568.0 101.2h5v20.7h-5zM1575.0 132.4h5v19.1h-5zM1583.0 146.0h5v9.5h-5zM1597.0 158.1h5v18.1h-5zM1604.0 171.0h5v4.0h-5zM1619.0 151.9h5v18.1h-5zM1633.0 176.4h5v17.7h-5zM1648.0 181.0h5v1.0h-5zM1684.0 129.7h5v14.1h-5zM1691.0 139.2h5v14.1h-5zM1713.0 139.8h5v18.9h-5zM1720.0 154.7h5v19.3h-5zM1727.0 174.7h5v21.3h-5zM1749.0 192.4h5v19.7h-5zM1756.0 215.5h5v17.5h-5zM1763.0 224.9h5v16.1h-5z" fill="#2189f2"/>
<path d="M0.5 370.1h2v10.1h-2zM7.5 360.7h2v4.4h-2zM22.5 307.2h2v39.8h-2zM29.5 292.4h2v11.8h-2zM58.5 311.3h2v10.6h-2zM80.5 287.3h2v16.1h-2zM87.5 277.3h2v10.8h-2zM94.5 277.9h2v1h-2zM116.5 255.6h2v50.3h-2zM130.5 260.0h2v12.3h-2zM152.5 316.2h2v1h-2zM159.5 304.8h2v5.1h-2zM174.5 293.8h2v20.1h-2zM217.5 363.5h2v3.7h-2zM224.5 339.6h2v15.5h-2zM239.5 354.1h2v11.1h-2zM261.5 351.7h2v17.8h-2zM268.5 356.1h2v4.0h-2zM282.5 350.5h2v5.0h-2zM297.5 332.6h2v29.5h-2zM311.5 322.9h2v11.1h-2zM318.5 301.4h2v15.5h-2zM326.5 296.8h2v1h-2zM333.5 289.4h2v15.5h-2zM362.5 301.0h2v26.2h-2zM369.5 280.9h2v17.7h-2zM376.5 282.3h2v5.7h-2zM383.5 282.3h2v13.7h-2zM391.5 263.8h2v10.7h-2zM398.5 259.8h2v6.7h-2zM412.5 257.4h2v23.1h-2zM420.5 239.7h2v19.5h-2zM427.5 214.6h2v8.0h-2zM449.5 220.6h2v24.2h-2zM470.5 251.8h2v9.0h-2zM477.5 231.7h2v16.7h-2zM485.5 232.7h2v3.6h-2zM492.5 227.7h2v11.0h-2zM506.5 255.3h2v1h-2zM564.5 297.0h2v17.1h-2zM571.5 270.3h2v18.7h-2zM593.5 293.0h2v1h-2zM615.5 350.0h2v7.1h-2zM622.5 322.9h2v10.1h-2zM629.5 334.6h2v5.4h-2zM637.5 305.2h2v33.8h-2zM651.5 308.8h2v14.1h-2zM658.5 287.1h2v12.7h-2zM680.5 301.2h2v12.7h-2zM702.5 277.4h2v11.6h-2zM709.5 266.9h2v2.0h-2zM716.5 243.8h2v21.1h-2zM723.5 237.8h2v8.0h-2zM745.5 245.2h2v9.7h-2zM752.5 243.8h2v10.1h-2zM774.5 228.7h2v18.1h-2zM788.5 226.7h2v5.5h-2zM803.5 224.3h2v7.1h-2zM817.5 233.0h2v1h-2zM824.5 232.6h2v1h-2zM846.5 232.4h2v24.5h-2zM853.5 218.7h2v16.1h-2zM861.5 218.2h2v1h-2zM890.5 233.2h2v19.7h-2zM897.5 231.5h2v1h-2zM933.5 232.5h2v3.4h-2zM947.5 223.9h2v13.6h-2zM955.5 205.8h2v17.7h-2zM998.5 203.8h2v20.1h-2zM1020.5 197.7h2v14.5h-2zM1027.5 171.6h2v16.1h-2zM1041.5 170.5h2v6.4h-2zM1056.5 166.5h2v11.4h-2zM1070.5 148.4h2v11.9h-2zM1078.5 135.7h2v6.1h-2zM1085.5 134.9h2v1h-2zM1092.5 111.6h2v25.7h-2zM1121.5 130.7h2v10.7h-2zM1143.5 131.7h2v16.5h-2zM1150.5 133.0h2v2.0h-2zM1157.5 124.0h2v9.0h-2zM1164.5 101.3h2v11.6h-2zM1172.5 99.8h2v1h-2zM1179.5 103.9h2v1.6h-2zM1200.5 118.5h2v6.5h-2zM1208.5 106.5h2v10.4h-2zM1215.5 93.2h2v1h-2zM1222.5 76.7h2v7.5h-2zM1237.5 71.7h2v5.6h-2zM1244.5 58.6h2v13.1h-2zM1251.5 53.6h2v1h-2zM1273.5 58.6h2v3.5h-2zM1280.5 52.6h2v5.4h-2zM1287.5 53.6h2v3.0h-2zM1302.5 46.2h2v7.0h-2zM1309.5 44.4h2v1h-2zM1331.5 80.8h2v3.4h-2zM1345.5 73.7h2v10.5h-2zM1352.5 81.5h2v1h-2zM1374.5 96.8h2v4.1h-2zM1381.5 86.4h2v11.8h-2zM1410.5 136.0h2v9.6h-2zM1417.5 122.9h2v6.6h-2zM1432.5 107.8h2v16.1h-2zM1446.5 120.5h2v6.4h-2zM1454.5 108.8h2v2.1h-2zM1461.5 82.3h2v27.2h-2zM1468.5 74.7h2v6.0h-2zM1504.5 101.7h2v5.6h-2zM1511.5 98.3h2v2.4h-2zM1519.5 86.2h2v1.8h-2zM1533.5 94.7h2v2.0h-2zM1540.5 78.6h2v8.0h-2zM1555.5 100.7h2v2.6h-2zM1591.5 148.9h2v9.1h-2zM1613.5 164.4h2v11.5h-2zM1627.5 169.2h2v1h-2zM1642.5 179.3h2v11.7h-2zM1656.5 160.4h2v30.6h-2zM1663.5 148.7h2v20.1h-2zM1670.5 140.7h2v6.6h-2zM1678.5 132.7h2v3.0h-2zM1699.5 133.7h2v12.4h-2zM1707.5 133.7h2v11.6h-2zM1735.5 198.9h2v2.0h-2zM1743.5 186.8h2v3.5h-2zM1772.5 219.4h2v11.7h-2zM1779.5 208.5h2v8.5h-2zM1786.5 190.9h2v14.0h-2zM1793.5 157.1h2v20.3h-2zM1801.5 140.2h2v9.9h-2zM1808.5 135.6h2v1h-2z" stroke="#f2f2f2" stroke-width="1" fill="#000" fill-opacity="0"/>
<rect x="4" y="4" width="309" height="125" fill="#2a2a2a" fill-opacity="0.4"/>
<path d="M14.5 21V115.5H19M14.5 35.5H18M14.5 51.5H18M14.5 67.5H18M14.5 83.5H18M14.5 99.5H18" stroke="#8c8c8c" stroke-width="1" fill="none"/>
<rect x="11.5" y="15.5" width="6" height="6" stroke="#8c8c8c" fill="none" stroke-width="1"/><path d="M13 18.5h3" stroke="#8c8c8c"/>
<rect x="21" y="13" width="12" height="12" fill="#fff"/>
<path d="M27.5 30V41M24 30.5h7" stroke="#a0a0a0" stroke-width="1" fill="none"/>
<path d="M21 51.5h12" stroke="#a0a0a0" stroke-width="1"/><circle cx="27" cy="51.5" r="2" fill="none" stroke="#a0a0a0"/>
<path d="M27.5 61V72M24 72.5h7" stroke="#a0a0a0" stroke-width="1" fill="none"/>
<rect x="21" y="77" width="12" height="12" fill="#e60aa0"/>
<rect x="21" y="93" width="12" height="12" fill="#20bf42"/>
<rect x="21" y="109" width="12" height="12" fill="#f8e412"/>
<g style="filter:grayscale(1)"><text transform="translate(37 22.8) scale(1 0.9)" font-family="'Liberation Mono'" font-size="12.4" letter-spacing="0.55" fill="#f0f0f0" xml:space="preserve">S&amp;P 500 INDEX - Last Price</text></g>
<g style="filter:grayscale(1)"><text transform="translate(251 22.8) scale(1 0.9)" font-family="'Liberation Mono'" font-size="12.4" letter-spacing="0.55" fill="#f0f0f0">4365.98</text></g>
<g style="filter:grayscale(1)"><text transform="translate(37 38.8) scale(1 0.9)" font-family="'Liberation Mono'" font-size="12.4" letter-spacing="0.55" fill="#f0f0f0" xml:space="preserve">High on 07/27/23</text></g>
<g style="filter:grayscale(1)"><text transform="translate(251 38.8) scale(1 0.9)" font-family="'Liberation Mono'" font-size="12.4" letter-spacing="0.55" fill="#f0f0f0">4607.07</text></g>
<g style="filter:grayscale(1)"><text transform="translate(37 54.8) scale(1 0.9)" font-family="'Liberation Mono'" font-size="12.4" letter-spacing="0.55" fill="#f0f0f0" xml:space="preserve">Average</text></g>
<g style="filter:grayscale(1)"><text transform="translate(251 54.8) scale(1 0.9)" font-family="'Liberation Mono'" font-size="12.4" letter-spacing="0.55" fill="#f0f0f0">4183.95</text></g>
<g style="filter:grayscale(1)"><text transform="translate(37 70.8) scale(1 0.9)" font-family="'Liberation Mono'" font-size="12.4" letter-spacing="0.55" fill="#f0f0f0" xml:space="preserve">Low on 11/09/22</text></g>
<g style="filter:grayscale(1)"><text transform="translate(251 70.8) scale(1 0.9)" font-family="'Liberation Mono'" font-size="12.4" letter-spacing="0.55" fill="#f0f0f0">3744.22</text></g>
<g style="filter:grayscale(1)"><text transform="translate(37 86.8) scale(1 0.9)" font-family="'Liberation Mono'" font-size="12.4" letter-spacing="0.55" fill="#f0f0f0" xml:space="preserve">SMAVG (20)  on Close</text></g>
<g style="filter:grayscale(1)"><text transform="translate(251 86.8) scale(1 0.9)" font-family="'Liberation Mono'" font-size="12.4" letter-spacing="0.55" fill="#f0f0f0">4276.14</text></g>
<g style="filter:grayscale(1)"><text transform="translate(37 102.8) scale(1 0.9)" font-family="'Liberation Mono'" font-size="12.4" letter-spacing="0.55" fill="#f0f0f0" xml:space="preserve">SMAVG (30)  on Close</text></g>
<g style="filter:grayscale(1)"><text transform="translate(251 102.8) scale(1 0.9)" font-family="'Liberation Mono'" font-size="12.4" letter-spacing="0.55" fill="#f0f0f0">4278.09</text></g>
<g style="filter:grayscale(1)"><text transform="translate(37 118.8) scale(1 0.9)" font-family="'Liberation Mono'" font-size="12.4" letter-spacing="0.55" fill="#f0f0f0" xml:space="preserve">SMAVG (200)  on Close</text></g>
<g style="filter:grayscale(1)"><text transform="translate(251 118.8) scale(1 0.9)" font-family="'Liberation Mono'" font-size="12.4" letter-spacing="0.55" fill="#f0f0f0">4249.58</text></g>
<rect x="0" y="440.5" width="1916" height="4" fill="#4b4b4b"/>
<path d="M950 441.5h15M950 443.5h15" stroke="#c8c8c8" stroke-width="1"/>
<rect x="0" y="592.5" width="1916" height="4" fill="#4b4b4b"/>
<path d="M950 593.5h15M950 595.5h15" stroke="#c8c8c8" stroke-width="1"/>
<line x1="0" y1="486.5" x2="1841" y2="486.5" stroke="#8a8a8a" stroke-width="1" stroke-dasharray="2 2"/>
<line x1="0" y1="533.5" x2="1841" y2="533.5" stroke="#8a8a8a" stroke-width="1" stroke-dasharray="2 2"/>
<line x1="0" y1="579.5" x2="1841" y2="579.5" stroke="#8a8a8a" stroke-width="1" stroke-dasharray="2 2"/>
<line x1="117.5" y1="445" x2="117.5" y2="592" stroke="#8a8a8a" stroke-width="1" stroke-dasharray="2 2"/>
<line x1="269.5" y1="445" x2="269.5" y2="592" stroke="#8a8a8a" stroke-width="1" stroke-dasharray="2 2"/>
<line x1="413.5" y1="445" x2="413.5" y2="592" stroke="#8a8a8a" stroke-width="1" stroke-dasharray="2 2"/>
<line x1="551.5" y1="445" x2="551.5" y2="592" stroke="#8a8a8a" stroke-width="1" stroke-dasharray="2 2"/>
<line x1="717.5" y1="445" x2="717.5" y2="592" stroke="#8a8a8a" stroke-width="1" stroke-dasharray="2 2"/>
<line x1="854.5" y1="445" x2="854.5" y2="592" stroke="#8a8a8a" stroke-width="1" stroke-dasharray="2 2"/>
<line x1="1013.5" y1="445" x2="1013.5" y2="592" stroke="#8a8a8a" stroke-width="1" stroke-dasharray="2 2"/>
<line x1="1165.5" y1="445" x2="1165.5" y2="592" stroke="#8a8a8a" stroke-width="1" stroke-dasharray="2 2"/>
<line x1="1310.5" y1="445" x2="1310.5" y2="592" stroke="#8a8a8a" stroke-width="1" stroke-dasharray="2 2"/>
<line x1="1476.5" y1="445" x2="1476.5" y2="592" stroke="#8a8a8a" stroke-width="1" stroke-dasharray="2 2"/>
<line x1="1621.5" y1="445" x2="1621.5" y2="592" stroke="#8a8a8a" stroke-width="1" stroke-dasharray="2 2"/>
<line x1="1780.5" y1="445" x2="1780.5" y2="592" stroke="#8a8a8a" stroke-width="1" stroke-dasharray="2 2"/>
<path d="M0.0 549.2V579.5h3V549.2zM7.0 549.2V579.5h3V549.2zM29.0 546.3V579.5h3V546.3zM36.0 548.0V579.5h3V548.0zM51.0 550.1V579.5h3V550.1zM58.0 553.0V579.5h3V553.0zM73.0 553.0V579.5h3V553.0zM80.0 553.8V579.5h3V553.8zM87.0 558.5V579.5h3V558.5zM94.0 567.9V579.5h3V567.9zM109.0 554.8V579.5h3V554.8zM123.0 549.7V579.5h3V549.7zM130.0 553.8V579.5h3V553.8zM152.0 551.4V579.5h3V551.4zM159.0 551.8V579.5h3V551.8zM167.0 551.8V579.5h3V551.8zM188.0 544.1V579.5h3V544.1zM210.0 548.0V579.5h3V548.0zM217.0 550.9V579.5h3V550.9zM224.0 551.8V579.5h3V551.8zM239.0 560.2V579.5h3V560.2zM253.0 559.4V579.5h3V559.4zM289.0 550.1V579.5h3V550.1zM311.0 553.1V579.5h3V553.1zM326.0 550.4V579.5h3V550.4zM333.0 553.1V579.5h3V553.1zM347.0 548.2V579.5h3V548.2zM355.0 548.4V579.5h3V548.4zM369.0 550.4V579.5h3V550.4zM376.0 557.2V579.5h3V557.2zM391.0 551.6V579.5h3V551.6zM405.0 551.8V579.5h3V551.8zM420.0 541.9V579.5h3V541.9zM434.0 545.0V579.5h3V545.0zM441.0 551.8V579.5h3V551.8zM456.0 549.2V579.5h3V549.2zM470.0 550.9V579.5h3V550.9zM477.0 550.9V579.5h3V550.9zM485.0 551.4V579.5h3V551.4zM492.0 552.6V579.5h3V552.6zM521.0 550.1V579.5h3V550.1zM535.0 551.4V579.5h3V551.4zM543.0 552.6V579.5h3V552.6zM557.0 550.9V579.5h3V550.9zM579.0 551.4V579.5h3V551.4zM593.0 553.8V579.5h3V553.8zM622.0 536.2V579.5h3V536.2zM637.0 536.2V579.5h3V536.2zM651.0 541.9V579.5h3V541.9zM665.0 547.0V579.5h3V547.0zM680.0 547.0V579.5h3V547.0zM687.0 548.7V579.5h3V548.7zM694.0 554.8V579.5h3V554.8zM709.0 553.8V579.5h3V553.8zM723.0 549.2V579.5h3V549.2zM731.0 550.1V579.5h3V550.1zM745.0 553.1V579.5h3V553.1zM752.0 553.8V579.5h3V553.8zM781.0 553.1V579.5h3V553.1zM796.0 553.1V579.5h3V553.1zM803.0 553.8V579.5h3V553.8zM824.0 553.8V579.5h3V553.8zM861.0 551.4V579.5h3V551.4zM875.0 547.2V579.5h3V547.2zM890.0 548.0V579.5h3V548.0zM897.0 553.8V579.5h3V553.8zM918.0 551.8V579.5h3V551.8zM926.0 552.6V579.5h3V552.6zM933.0 553.8V579.5h3V553.8zM955.0 549.2V579.5h3V549.2zM969.0 552.6V579.5h3V552.6zM984.0 552.1V579.5h3V552.1zM998.0 547.0V579.5h3V547.0zM1005.0 547.2V579.5h3V547.2zM1020.0 547.5V579.5h3V547.5zM1027.0 547.7V579.5h3V547.7zM1034.0 550.9V579.5h3V550.9zM1041.0 552.1V579.5h3V552.1zM1056.0 551.8V579.5h3V551.8zM1063.0 552.0V579.5h3V552.0zM1078.0 548.7V579.5h3V548.7zM1106.0 545.0V579.5h3V545.0zM1114.0 547.0V579.5h3V547.0zM1121.0 552.6V579.5h3V552.6zM1135.0 550.1V579.5h3V550.1zM1143.0 550.9V579.5h3V550.9zM1150.0 551.1V579.5h3V551.1zM1157.0 552.6V579.5h3V552.6zM1172.0 562.8V579.5h3V562.8zM1200.0 550.1V579.5h3V550.1zM1208.0 553.1V579.5h3V553.1zM1222.0 552.1V579.5h3V552.1zM1237.0 552.1V579.5h3V552.1zM1273.0 552.6V579.5h3V552.6zM1302.0 549.2V579.5h3V549.2zM1316.0 552.1V579.5h3V552.1zM1331.0 549.7V579.5h3V549.7zM1345.0 553.8V579.5h3V553.8zM1360.0 552.8V579.5h3V552.8zM1367.0 554.8V579.5h3V554.8zM1374.0 556.5V579.5h3V556.5zM1388.0 554.0V579.5h3V554.0zM1396.0 554.8V579.5h3V554.8zM1417.0 553.8V579.5h3V553.8zM1425.0 556.0V579.5h3V556.0zM1446.0 554.3V579.5h3V554.3zM1454.0 557.7V579.5h3V557.7zM1468.0 556.5V579.5h3V556.5zM1482.0 554.3V579.5h3V554.3zM1497.0 554.3V579.5h3V554.3zM1511.0 553.8V579.5h3V553.8zM1555.0 552.1V579.5h3V552.1zM1569.0 553.8V579.5h3V553.8zM1584.0 550.9V579.5h3V550.9zM1591.0 554.8V579.5h3V554.8zM1613.0 552.6V579.5h3V552.6zM1627.0 548.0V579.5h3V548.0zM1634.0 548.7V579.5h3V548.7zM1649.0 550.9V579.5h3V550.9zM1663.0 553.8V579.5h3V553.8zM1678.0 553.1V579.5h3V553.1zM1699.0 552.1V579.5h3V552.1zM1714.0 550.9V579.5h3V550.9zM1735.0 551.4V579.5h3V551.4zM1764.0 545.0V579.5h3V545.0zM1772.0 549.2V579.5h3V549.2zM1786.0 542.9V579.5h3V542.9zM1793.0 542.9V579.5h3V542.9zM1801.0 547.0V579.5h3V547.0zM1808.0 550.9V579.5h3V550.9z" fill="#ec1a1a"/>
<path d="M15.0 548.0V579.5h3V548.0zM22.0 536.2V579.5h3V536.2zM44.0 546.3V579.5h3V546.3zM65.0 549.2V579.5h3V549.2zM101.0 550.4V579.5h3V550.4zM116.0 514.1V579.5h3V514.1zM138.0 551.8V579.5h3V551.8zM145.0 549.2V579.5h3V549.2zM174.0 550.4V579.5h3V550.4zM181.0 537.3V579.5h3V537.3zM195.0 541.9V579.5h3V541.9zM203.0 464.4V579.5h3V464.4zM232.0 550.1V579.5h3V550.1zM246.0 558.0V579.5h3V558.0zM261.0 557.2V579.5h3V557.2zM268.0 555.2V579.5h3V555.2zM275.0 548.0V579.5h3V548.0zM282.0 546.3V579.5h3V546.3zM297.0 548.0V579.5h3V548.0zM304.0 547.6V579.5h3V547.6zM318.0 549.2V579.5h3V549.2zM340.0 548.0V579.5h3V548.0zM362.0 541.2V579.5h3V541.2zM383.0 551.4V579.5h3V551.4zM398.0 550.9V579.5h3V550.9zM412.0 535.1V579.5h3V535.1zM427.0 540.2V579.5h3V540.2zM449.0 548.0V579.5h3V548.0zM463.0 548.0V579.5h3V548.0zM499.0 550.9V579.5h3V550.9zM506.0 548.7V579.5h3V548.7zM514.0 547.0V579.5h3V547.0zM528.0 549.7V579.5h3V549.7zM550.0 533.4V579.5h3V533.4zM564.0 550.7V579.5h3V550.7zM571.0 550.4V579.5h3V550.4zM586.0 550.9V579.5h3V550.9zM600.0 547.0V579.5h3V547.0zM608.0 539.9V579.5h3V539.9zM615.0 532.3V579.5h3V532.3zM629.0 533.1V579.5h3V533.1zM644.0 457.1V579.5h3V457.1zM658.0 541.2V579.5h3V541.2zM673.0 544.1V579.5h3V544.1zM702.0 550.1V579.5h3V550.1zM716.0 541.9V579.5h3V541.9zM738.0 549.2V579.5h3V549.2zM759.0 553.6V579.5h3V553.6zM767.0 552.1V579.5h3V552.1zM774.0 550.9V579.5h3V550.9zM788.0 552.9V579.5h3V552.9zM810.0 549.2V579.5h3V549.2zM817.0 548.0V579.5h3V548.0zM832.0 549.2V579.5h3V549.2zM839.0 547.0V579.5h3V547.0zM846.0 546.3V579.5h3V546.3zM853.0 542.9V579.5h3V542.9zM868.0 547.0V579.5h3V547.0zM882.0 545.3V579.5h3V545.3zM904.0 552.1V579.5h3V552.1zM911.0 550.4V579.5h3V550.4zM940.0 552.6V579.5h3V552.6zM947.0 548.0V579.5h3V548.0zM962.0 547.0V579.5h3V547.0zM976.0 550.9V579.5h3V550.9zM991.0 545.0V579.5h3V545.0zM1012.0 497.2V579.5h3V497.2zM1049.0 545.8V579.5h3V545.8zM1070.0 548.0V579.5h3V548.0zM1085.0 545.8V579.5h3V545.8zM1092.0 543.6V579.5h3V543.6zM1099.0 484.3V579.5h3V484.3zM1128.0 528.0V579.5h3V528.0zM1164.0 542.9V579.5h3V542.9zM1179.0 550.9V579.5h3V550.9zM1186.0 550.1V579.5h3V550.1zM1193.0 549.2V579.5h3V549.2zM1215.0 549.2V579.5h3V549.2zM1229.0 550.9V579.5h3V550.9zM1244.0 549.2V579.5h3V549.2zM1251.0 547.0V579.5h3V547.0zM1258.0 546.8V579.5h3V546.8zM1266.0 526.3V579.5h3V526.3zM1280.0 550.9V579.5h3V550.9zM1287.0 550.7V579.5h3V550.7zM1294.0 546.3V579.5h3V546.3zM1309.0 541.2V579.5h3V541.2zM1323.0 547.0V579.5h3V547.0zM1338.0 549.5V579.5h3V549.5zM1352.0 552.6V579.5h3V552.6zM1381.0 553.8V579.5h3V553.8zM1403.0 552.6V579.5h3V552.6zM1410.0 549.2V579.5h3V549.2zM1432.0 553.8V579.5h3V553.8zM1439.0 550.1V579.5h3V550.1zM1461.0 554.8V579.5h3V554.8zM1475.0 541.9V579.5h3V541.9zM1490.0 552.1V579.5h3V552.1zM1504.0 547.0V579.5h3V547.0zM1519.0 552.6V579.5h3V552.6zM1526.0 552.4V579.5h3V552.4zM1533.0 549.2V579.5h3V549.2zM1540.0 548.0V579.5h3V548.0zM1548.0 481.9V579.5h3V481.9zM1562.0 551.9V579.5h3V551.9zM1576.0 549.2V579.5h3V549.2zM1598.0 550.9V579.5h3V550.9zM1605.0 549.2V579.5h3V549.2zM1620.0 545.3V579.5h3V545.3zM1642.0 549.2V579.5h3V549.2zM1656.0 548.0V579.5h3V548.0zM1670.0 551.8V579.5h3V551.8zM1685.0 551.4V579.5h3V551.4zM1692.0 550.4V579.5h3V550.4zM1707.0 549.2V579.5h3V549.2zM1721.0 546.3V579.5h3V546.3zM1728.0 540.2V579.5h3V540.2zM1743.0 550.4V579.5h3V550.4zM1750.0 546.3V579.5h3V546.3zM1757.0 541.9V579.5h3V541.9zM1779.0 541.9V579.5h3V541.9z" fill="#8cfb2c"/>
<polyline points="0.0,545.8 17.0,545.3 22.9,543.8 30.5,545.3 50.9,545.8 67.8,547.0 84.8,548.0 95.0,550.4 108.5,550.9 117.0,548.0 128.9,550.1 152.6,551.4 174.7,551.4 186.6,549.2 195.0,548.0 203.5,541.6 217.1,541.6 225.6,543.3 240.0,544.1 252.0,545.3 282.5,545.8 305.4,546.7 311.3,552.3 336.8,552.3 353.7,551.4 362.2,549.2 387.6,550.1 406.3,550.4 413.1,548.7 421.6,548.0 438.5,547.5 475.0,548.4 507.3,548.0 514.1,547.0 534.5,550.4 551.4,549.2 571.8,550.4 595.5,550.4 609.1,548.7 622.6,546.7 636.2,545.0 646.4,538.2 656.6,538.2 671.8,537.3 702.4,537.3 718.6,538.2 745.7,541.6 754.2,548.0 766.1,550.4 779.6,551.8 823.7,551.8 857.6,550.9 883.1,549.2 917.0,549.2 945.0,550.4 973.9,550.4 984.1,551.8 999.4,551.4 1011.2,546.7 1041.8,546.3 1050.2,545.3 1085.9,545.3 1099.4,540.7 1114.7,540.7 1122.3,543.6 1160.5,543.3 1165.6,542.4 1180.0,544.6 1200.4,544.1 1208.9,548.7 1225.9,550.4 1239.4,551.4 1259.8,551.4 1267.4,549.2 1293.7,548.4 1327.6,547.5 1344.6,548.0 1366.7,548.4 1373.4,550.9 1400.6,551.8 1415.0,552.1 1423.6,553.5 1447.3,553.8 1454.1,554.8 1471.1,554.8 1477.8,553.1 1498.2,553.1 1505.0,552.1 1540.6,552.1 1549.1,547.5 1571.1,547.5 1577.1,545.8 1584.7,547.5 1613.5,547.5 1621.2,545.8 1650.1,546.3 1662.0,551.4 1695.9,551.4 1712.8,550.4 1746.8,550.4 1763.7,549.2 1780.7,548.0 1790.9,546.3 1808.7,546.3" fill="none" stroke="#f0f0f0" stroke-width="1.2"/>
<rect x="4" y="449" width="270" height="30" fill="#2a2a2a" fill-opacity="0.4"/>
<rect x="11.5" y="460.5" width="6" height="6" stroke="#8c8c8c" fill="none"/><path d="M13 463.5h3M14.5 462v3" stroke="#8c8c8c"/>
<rect x="21" y="458" width="12" height="12" fill="#fff"/>
<g style="filter:grayscale(1)"><text transform="translate(37 467.8) scale(1 0.9)" font-family="'Liberation Mono'" font-size="12.4" letter-spacing="0.55" fill="#f0f0f0">S&amp;P 500 INDEX - Volume 0.600B</text></g>
<line x1="0" y1="626.5" x2="1841" y2="626.5" stroke="#8a8a8a" stroke-width="1" stroke-dasharray="2 2"/>
<line x1="0" y1="725.5" x2="1841" y2="725.5" stroke="#8a8a8a" stroke-width="1" stroke-dasharray="2 2"/>
<line x1="117.5" y1="597" x2="117.5" y2="743" stroke="#8a8a8a" stroke-width="1" stroke-dasharray="2 2"/>
<line x1="269.5" y1="597" x2="269.5" y2="743" stroke="#8a8a8a" stroke-width="1" stroke-dasharray="2 2"/>
<line x1="413.5" y1="597" x2="413.5" y2="743" stroke="#8a8a8a" stroke-width="1" stroke-dasharray="2 2"/>
<line x1="551.5" y1="597" x2="551.5" y2="743" stroke="#8a8a8a" stroke-width="1" stroke-dasharray="2 2"/>
<line x1="717.5" y1="597" x2="717.5" y2="743" stroke="#8a8a8a" stroke-width="1" stroke-dasharray="2 2"/>
<line x1="854.5" y1="597" x2="854.5" y2="743" stroke="#8a8a8a" stroke-width="1" stroke-dasharray="2 2"/>
<line x1="1013.5" y1="597" x2="1013.5" y2="743" stroke="#8a8a8a" stroke-width="1" stroke-dasharray="2 2"/>
<line x1="1165.5" y1="597" x2="1165.5" y2="743" stroke="#8a8a8a" stroke-width="1" stroke-dasharray="2 2"/>
<line x1="1310.5" y1="597" x2="1310.5" y2="743" stroke="#8a8a8a" stroke-width="1" stroke-dasharray="2 2"/>
<line x1="1476.5" y1="597" x2="1476.5" y2="743" stroke="#8a8a8a" stroke-width="1" stroke-dasharray="2 2"/>
<line x1="1621.5" y1="597" x2="1621.5" y2="743" stroke="#8a8a8a" stroke-width="1" stroke-dasharray="2 2"/>
<line x1="1780.5" y1="597" x2="1780.5" y2="743" stroke="#8a8a8a" stroke-width="1" stroke-dasharray="2 2"/>
<line x1="0" y1="675.5" x2="1841" y2="675.5" stroke="#9a9a9a" stroke-width="1"/>
<path d="M0.0,668.2 L7.4,664.8 L14.8,668.5 L29.5,643.2 L45.2,627.2 L55.4,625.3 L66.5,622.9 L72.9,623.8 L81.2,620.2 L92.3,615.0 L96.0,615.0 L108.9,622.4 L118.2,616.5 L130.2,611.8 L138.5,618.0 L153.3,634.9 L160.6,638.6 L168.0,646.4 L175.4,646.9 L181.9,645.1 L188.3,646.9 L195.7,655.2 L208.6,671.9 L218.8,687.6 L224.3,688.5 L232.6,694.9 L243.7,698.6 L254.8,705.5 L265.9,704.2 L277.0,704.7 L284.3,703.2 L290.8,703.6 L296.3,698.6 L304.7,694.0 L310.0,689.4 L322.9,673.7 L339.5,658.0 L346.9,658.6 L355.2,662.6 L361.7,660.8 L370.9,653.4 L383.9,646.9 L391.2,641.4 L398.6,637.1 L406.0,637.7 L413.4,634.0 L420.8,627.5 L428.2,619.8 L435.6,616.8 L442.0,617.4 L449.4,615.0 L456.8,615.9 L463.3,621.1 L470.6,624.8 L492.8,626.1 L502.0,633.1 L509.4,639.5 L518.6,651.5 L527.9,659.9 L537.1,670.0 L546.3,677.4 L557.4,687.6 L564.8,688.8 L572.2,685.7 L578.7,682.6 L585.1,684.8 L591.6,685.7 L598.0,690.3 L605.4,698.6 L616.5,708.8 L630.2,711.6 L637.5,708.4 L644.9,708.4 L653.2,704.2 L658.8,697.7 L668.0,695.9 L679.1,693.1 L690.2,688.1 L695.7,686.3 L703.1,680.2 L710.5,673.3 L716.0,666.3 L723.4,655.2 L732.6,649.3 L740.0,646.9 L752.9,641.9 L760.3,640.8 L767.7,641.9 L775.1,637.7 L786.2,635.9 L793.6,634.0 L802.8,632.7 L812.0,635.9 L825.0,638.3 L832.3,645.1 L839.7,652.1 L847.1,651.9 L854.5,648.2 L860.0,646.9 L869.3,650.6 L882.2,660.4 L897.0,658.9 L908.0,660.4 L922.8,660.8 L933.9,661.7 L941.1,663.5 L950.3,659.9 L957.7,655.6 L968.8,651.9 L979.9,657.1 L990.9,659.9 L1000.2,656.7 L1007.5,654.3 L1018.6,652.5 L1029.7,643.2 L1042.6,636.8 L1051.9,634.6 L1066.6,629.8 L1077.7,622.0 L1086.9,618.3 L1094.3,611.8 L1103.6,609.4 L1109.1,609.4 L1120.2,612.8 L1129.4,617.9 L1136.8,622.9 L1151.6,626.6 L1157.1,625.7 L1166.3,621.6 L1177.4,620.5 L1184.8,622.0 L1194.0,626.6 L1207.0,629.8 L1212.5,628.5 L1223.6,623.8 L1234.7,619.2 L1240.0,617.4 L1251.1,613.7 L1262.2,613.1 L1273.2,614.2 L1280.6,613.7 L1288.0,615.0 L1295.4,617.9 L1310.2,617.9 L1317.5,619.8 L1328.6,631.2 L1339.7,641.4 L1350.8,647.5 L1361.9,656.2 L1374.8,664.5 L1382.2,665.9 L1393.2,675.5 L1402.5,684.8 L1411.7,692.5 L1420.9,695.9 L1426.5,697.3 L1433.9,695.9 L1441.3,698.6 L1448.6,697.3 L1454.2,695.5 L1461.6,689.4 L1470.8,680.2 L1481.9,671.9 L1491.1,668.5 L1502.2,670.4 L1513.3,672.8 L1520.6,671.5 L1531.7,672.8 L1541.0,669.1 L1548.3,672.2 L1561.1,673.3 L1568.5,677.4 L1577.7,687.6 L1586.9,698.6 L1592.5,702.3 L1599.9,711.0 L1607.2,717.1 L1616.5,719.5 L1625.7,721.3 L1634.9,726.9 L1642.3,727.6 L1649.7,728.7 L1657.1,722.6 L1664.5,716.2 L1675.6,706.9 L1684.8,700.5 L1692.2,698.6 L1701.4,692.2 L1708.8,688.8 L1714.3,688.8 L1723.6,694.0 L1729.1,698.6 L1736.5,705.5 L1743.9,706.9 L1753.1,713.9 L1760.5,720.8 L1766.0,728.7 L1773.4,730.0 L1780.8,726.9 L1788.2,720.8 L1797.4,706.9 L1808.5,689.4 L1808.5,709.7 L1807.6,710.2 L1806.3,710.9 L1804.8,711.7 L1803.0,712.5 L1801.0,713.4 L1798.7,714.4 L1796.2,715.3 L1793.7,716.2 L1791.0,717.1 L1788.3,718.1 L1785.4,718.8 L1782.6,718.9 L1779.9,718.3 L1777.2,717.3 L1774.5,715.9 L1771.6,714.3 L1768.5,712.4 L1765.3,710.2 L1762.0,708.0 L1758.6,706.0 L1755.1,704.3 L1751.6,702.9 L1747.9,701.6 L1743.9,700.5 L1739.4,699.7 L1734.5,699.1 L1729.7,698.7 L1725.4,698.6 L1721.8,698.7 L1718.7,699.0 L1715.7,699.6 L1712.5,700.5 L1709.0,701.8 L1705.5,703.4 L1701.7,705.1 L1697.7,706.9 L1693.2,708.7 L1688.4,710.6 L1683.6,712.4 L1679.2,714.0 L1675.2,715.4 L1671.5,716.7 L1668.0,717.7 L1664.5,718.4 L1661.3,718.8 L1658.3,718.8 L1655.2,718.5 L1651.6,717.6 L1647.4,716.0 L1642.7,713.8 L1637.9,711.3 L1633.1,708.8 L1628.5,706.3 L1623.8,703.8 L1619.2,701.2 L1614.6,698.6 L1610.0,696.0 L1605.4,693.5 L1600.8,691.0 L1596.2,688.5 L1591.5,686.0 L1586.8,683.6 L1582.2,681.2 L1577.7,679.2 L1573.3,677.5 L1568.9,675.9 L1564.8,674.7 L1561.1,673.7 L1558.0,673.1 L1555.4,672.8 L1552.9,672.6 L1550.0,672.6 L1546.8,672.6 L1543.4,672.8 L1539.7,673.0 L1535.4,673.3 L1530.3,673.5 L1524.6,673.7 L1518.7,674.1 L1513.3,674.6 L1508.4,675.4 L1503.8,676.4 L1499.3,677.5 L1494.8,678.9 L1490.1,680.6 L1485.4,682.6 L1480.8,684.6 L1476.3,686.3 L1472.0,687.9 L1467.9,689.4 L1463.8,690.6 L1459.7,691.2 L1455.6,691.0 L1451.5,690.2 L1447.4,689.0 L1443.1,687.6 L1438.5,685.9 L1433.6,683.8 L1428.9,681.5 L1424.6,679.2 L1421.1,677.1 L1418.1,674.9 L1415.2,672.6 L1411.7,670.0 L1407.6,667.0 L1403.1,663.6 L1398.3,660.1 L1393.2,656.7 L1387.6,653.4 L1381.7,650.1 L1375.5,646.7 L1369.2,643.2 L1362.6,639.2 L1355.7,634.9 L1349.1,630.9 L1343.4,627.5 L1338.9,625.0 L1335.3,623.2 L1332.0,621.8 L1328.6,620.5 L1325.0,619.4 L1321.5,618.5 L1317.8,617.9 L1313.9,617.4 L1309.5,617.2 L1304.9,617.2 L1300.1,617.4 L1295.4,617.4 L1290.8,617.2 L1286.1,617.0 L1281.5,616.8 L1276.9,616.8 L1272.3,617.0 L1267.7,617.5 L1263.1,618.0 L1258.5,618.7 L1253.6,619.7 L1248.4,620.9 L1243.7,622.0 L1240.0,622.9 L1238.0,623.3 L1237.2,623.3 L1236.5,623.3 L1234.7,623.5 L1231.2,624.0 L1226.8,624.7 L1222.1,625.3 L1218.1,625.7 L1215.0,625.7 L1212.4,625.5 L1209.9,625.2 L1207.0,624.8 L1203.5,624.3 L1199.7,623.6 L1195.9,622.9 L1192.2,622.4 L1188.9,622.1 L1185.9,622.0 L1182.7,622.0 L1179.3,622.0 L1175.4,622.2 L1171.3,622.6 L1167.0,622.9 L1162.6,622.9 L1158.0,622.5 L1153.3,621.7 L1148.6,620.9 L1144.2,620.2 L1140.2,619.6 L1136.3,619.1 L1132.8,618.6 L1129.4,618.3 L1126.4,618.1 L1123.6,618.0 L1121.0,618.1 L1118.3,618.3 L1115.5,618.6 L1112.7,619.1 L1110.0,619.8 L1107.2,620.5 L1104.5,621.4 L1101.9,622.3 L1099.2,623.5 L1096.2,624.8 L1092.9,626.4 L1089.3,628.3 L1085.4,630.2 L1081.4,632.2 L1077.0,634.2 L1072.4,636.2 L1067.6,638.2 L1062.9,640.1 L1058.3,641.8 L1053.7,643.4 L1049.1,644.9 L1044.5,646.4 L1039.9,647.8 L1035.3,649.1 L1030.6,650.3 L1026.0,651.5 L1021.4,652.6 L1016.7,653.8 L1012.1,654.8 L1007.5,655.6 L1003.0,656.3 L998.5,656.8 L994.0,657.2 L989.1,657.5 L983.7,657.6 L978.0,657.5 L972.3,657.4 L966.9,657.5 L962.0,657.8 L957.5,658.3 L953.0,658.7 L948.5,658.9 L943.8,658.8 L939.1,658.6 L934.5,658.3 L930.2,658.0 L926.3,657.8 L922.8,657.5 L919.3,657.2 L915.4,656.7 L911.0,656.0 L906.2,655.2 L901.4,654.3 L897.0,653.4 L893.0,652.5 L889.4,651.6 L885.8,650.6 L882.2,649.7 L878.5,648.8 L874.8,647.9 L871.1,647.0 L867.4,646.4 L863.7,646.1 L860.0,646.0 L856.3,645.9 L852.6,645.6 L848.9,644.9 L845.1,643.9 L841.4,642.9 L837.9,641.9 L834.5,640.9 L831.2,639.8 L828.1,638.9 L825.0,638.3 L822.1,638.1 L819.5,638.3 L816.8,638.6 L813.9,639.0 L810.7,639.5 L807.4,640.0 L804.1,640.7 L800.9,641.4 L798.1,642.2 L795.5,643.1 L792.9,644.1 L789.9,645.1 L786.5,646.3 L782.7,647.5 L778.9,648.8 L775.1,650.1 L771.4,651.3 L767.7,652.4 L764.0,653.7 L760.3,655.2 L756.6,657.0 L753.0,659.1 L749.3,661.3 L745.6,663.5 L741.7,665.7 L737.7,667.9 L734.0,670.0 L730.8,671.9 L728.5,673.4 L726.9,674.6 L725.3,675.8 L723.4,677.4 L720.9,679.5 L718.2,682.0 L715.3,684.5 L712.3,686.6 L709.2,688.3 L706.1,689.7 L702.8,691.0 L699.4,692.2 L695.9,693.3 L692.2,694.2 L688.5,695.0 L684.6,695.9 L680.5,696.8 L676.2,697.6 L671.9,698.5 L668.0,699.2 L664.5,699.9 L661.3,700.6 L658.2,701.1 L655.1,701.4 L651.8,701.4 L648.5,701.3 L645.3,700.9 L642.2,700.5 L639.3,700.0 L636.4,699.5 L633.7,698.7 L631.1,697.7 L628.6,696.2 L626.3,694.4 L624.1,692.6 L622.0,691.0 L620.3,689.8 L618.8,688.8 L617.1,687.9 L614.7,686.6 L611.3,684.9 L607.2,683.0 L602.6,681.1 L598.0,679.3 L593.0,677.8 L587.6,676.3 L582.3,675.0 L577.7,673.7 L574.2,672.8 L571.5,672.1 L568.6,671.1 L564.8,669.1 L559.5,665.7 L553.1,661.4 L546.7,656.7 L540.8,652.5 L535.8,648.8 L531.2,645.2 L526.8,641.8 L522.3,638.6 L517.5,635.4 L512.6,632.3 L508.0,629.6 L503.9,627.5 L500.9,626.4 L498.6,626.0 L496.2,625.9 L492.8,625.7 L487.9,625.4 L482.0,625.1 L476.0,624.9 L470.6,624.8 L466.0,624.8 L461.8,624.8 L457.9,625.0 L454.0,625.7 L450.2,626.9 L446.5,628.5 L442.9,630.3 L439.2,632.2 L435.6,634.1 L432.1,636.0 L428.4,638.0 L424.5,640.1 L420.2,642.2 L415.7,644.4 L411.0,646.6 L406.0,648.8 L400.7,651.1 L395.2,653.4 L389.5,655.7 L383.9,658.0 L378.3,660.3 L372.7,662.7 L367.1,665.0 L361.7,667.2 L356.4,669.3 L351.2,671.2 L346.2,673.2 L341.4,675.5 L336.9,678.2 L332.7,681.1 L328.7,684.0 L324.8,686.6 L321.0,688.9 L317.4,691.0 L313.8,693.0 L310.2,694.6 L306.3,696.0 L302.3,697.1 L298.6,698.0 L295.4,698.6 L293.2,699.0 L291.7,699.1 L290.2,699.0 L288.0,698.6 L284.8,698.0 L281.1,697.1 L277.2,696.1 L273.3,694.9 L269.7,693.6 L266.1,692.3 L262.5,690.6 L258.5,688.5 L254.1,685.7 L249.5,682.5 L244.7,679.0 L240.0,675.5 L235.4,672.1 L230.8,668.6 L226.2,665.1 L221.6,661.7 L216.9,658.3 L212.1,655.0 L207.5,651.8 L203.1,648.8 L199.1,645.9 L195.4,643.2 L191.8,640.7 L188.3,638.6 L185.1,637.1 L182.1,636.1 L179.0,635.2 L175.4,634.0 L171.2,632.3 L166.5,630.5 L161.6,628.5 L156.9,626.6 L152.1,624.6 L147.1,622.4 L142.5,620.5 L138.5,619.2 L135.7,618.7 L133.6,618.8 L131.7,619.3 L129.2,619.8 L126.0,620.4 L122.4,621.2 L118.6,622.0 L114.5,622.9 L110.0,623.7 L105.1,624.6 L100.3,625.5 L96.0,626.6 L92.6,627.8 L89.7,629.1 L86.7,630.6 L83.1,632.2 L78.5,633.9 L73.3,635.7 L67.9,637.7 L62.8,640.1 L58.0,643.1 L53.2,646.5 L48.6,650.1 L44.3,653.4 L40.3,656.4 L36.4,659.4 L32.8,662.1 L29.5,664.5 L26.7,666.5 L24.2,668.1 L21.7,669.6 L18.5,670.9 L14.0,672.2 L8.6,673.5 L3.5,674.5 L0.0,675.2Z" fill="#7a7a7a" clip-path="url(#cp_above)"/>
<path d="M0.0,668.2 L7.4,664.8 L14.8,668.5 L29.5,643.2 L45.2,627.2 L55.4,625.3 L66.5,622.9 L72.9,623.8 L81.2,620.2 L92.3,615.0 L96.0,615.0 L108.9,622.4 L118.2,616.5 L130.2,611.8 L138.5,618.0 L153.3,634.9 L160.6,638.6 L168.0,646.4 L175.4,646.9 L181.9,645.1 L188.3,646.9 L195.7,655.2 L208.6,671.9 L218.8,687.6 L224.3,688.5 L232.6,694.9 L243.7,698.6 L254.8,705.5 L265.9,704.2 L277.0,704.7 L284.3,703.2 L290.8,703.6 L296.3,698.6 L304.7,694.0 L310.0,689.4 L322.9,673.7 L339.5,658.0 L346.9,658.6 L355.2,662.6 L361.7,660.8 L370.9,653.4 L383.9,646.9 L391.2,641.4 L398.6,637.1 L406.0,637.7 L413.4,634.0 L420.8,627.5 L428.2,619.8 L435.6,616.8 L442.0,617.4 L449.4,615.0 L456.8,615.9 L463.3,621.1 L470.6,624.8 L492.8,626.1 L502.0,633.1 L509.4,639.5 L518.6,651.5 L527.9,659.9 L537.1,670.0 L546.3,677.4 L557.4,687.6 L564.8,688.8 L572.2,685.7 L578.7,682.6 L585.1,684.8 L591.6,685.7 L598.0,690.3 L605.4,698.6 L616.5,708.8 L630.2,711.6 L637.5,708.4 L644.9,708.4 L653.2,704.2 L658.8,697.7 L668.0,695.9 L679.1,693.1 L690.2,688.1 L695.7,686.3 L703.1,680.2 L710.5,673.3 L716.0,666.3 L723.4,655.2 L732.6,649.3 L740.0,646.9 L752.9,641.9 L760.3,640.8 L767.7,641.9 L775.1,637.7 L786.2,635.9 L793.6,634.0 L802.8,632.7 L812.0,635.9 L825.0,638.3 L832.3,645.1 L839.7,652.1 L847.1,651.9 L854.5,648.2 L860.0,646.9 L869.3,650.6 L882.2,660.4 L897.0,658.9 L908.0,660.4 L922.8,660.8 L933.9,661.7 L941.1,663.5 L950.3,659.9 L957.7,655.6 L968.8,651.9 L979.9,657.1 L990.9,659.9 L1000.2,656.7 L1007.5,654.3 L1018.6,652.5 L1029.7,643.2 L1042.6,636.8 L1051.9,634.6 L1066.6,629.8 L1077.7,622.0 L1086.9,618.3 L1094.3,611.8 L1103.6,609.4 L1109.1,609.4 L1120.2,612.8 L1129.4,617.9 L1136.8,622.9 L1151.6,626.6 L1157.1,625.7 L1166.3,621.6 L1177.4,620.5 L1184.8,622.0 L1194.0,626.6 L1207.0,629.8 L1212.5,628.5 L1223.6,623.8 L1234.7,619.2 L1240.0,617.4 L1251.1,613.7 L1262.2,613.1 L1273.2,614.2 L1280.6,613.7 L1288.0,615.0 L1295.4,617.9 L1310.2,617.9 L1317.5,619.8 L1328.6,631.2 L1339.7,641.4 L1350.8,647.5 L1361.9,656.2 L1374.8,664.5 L1382.2,665.9 L1393.2,675.5 L1402.5,684.8 L1411.7,692.5 L1420.9,695.9 L1426.5,697.3 L1433.9,695.9 L1441.3,698.6 L1448.6,697.3 L1454.2,695.5 L1461.6,689.4 L1470.8,680.2 L1481.9,671.9 L1491.1,668.5 L1502.2,670.4 L1513.3,672.8 L1520.6,671.5 L1531.7,672.8 L1541.0,669.1 L1548.3,672.2 L1561.1,673.3 L1568.5,677.4 L1577.7,687.6 L1586.9,698.6 L1592.5,702.3 L1599.9,711.0 L1607.2,717.1 L1616.5,719.5 L1625.7,721.3 L1634.9,726.9 L1642.3,727.6 L1649.7,728.7 L1657.1,722.6 L1664.5,716.2 L1675.6,706.9 L1684.8,700.5 L1692.2,698.6 L1701.4,692.2 L1708.8,688.8 L1714.3,688.8 L1723.6,694.0 L1729.1,698.6 L1736.5,705.5 L1743.9,706.9 L1753.1,713.9 L1760.5,720.8 L1766.0,728.7 L1773.4,730.0 L1780.8,726.9 L1788.2,720.8 L1797.4,706.9 L1808.5,689.4 L1808.5,709.7 L1807.6,710.2 L1806.3,710.9 L1804.8,711.7 L1803.0,712.5 L1801.0,713.4 L1798.7,714.4 L1796.2,715.3 L1793.7,716.2 L1791.0,717.1 L1788.3,718.1 L1785.4,718.8 L1782.6,718.9 L1779.9,718.3 L1777.2,717.3 L1774.5,715.9 L1771.6,714.3 L1768.5,712.4 L1765.3,710.2 L1762.0,708.0 L1758.6,706.0 L1755.1,704.3 L1751.6,702.9 L1747.9,701.6 L1743.9,700.5 L1739.4,699.7 L1734.5,699.1 L1729.7,698.7 L1725.4,698.6 L1721.8,698.7 L1718.7,699.0 L1715.7,699.6 L1712.5,700.5 L1709.0,701.8 L1705.5,703.4 L1701.7,705.1 L1697.7,706.9 L1693.2,708.7 L1688.4,710.6 L1683.6,712.4 L1679.2,714.0 L1675.2,715.4 L1671.5,716.7 L1668.0,717.7 L1664.5,718.4 L1661.3,718.8 L1658.3,718.8 L1655.2,718.5 L1651.6,717.6 L1647.4,716.0 L1642.7,713.8 L1637.9,711.3 L1633.1,708.8 L1628.5,706.3 L1623.8,703.8 L1619.2,701.2 L1614.6,698.6 L1610.0,696.0 L1605.4,693.5 L1600.8,691.0 L1596.2,688.5 L1591.5,686.0 L1586.8,683.6 L1582.2,681.2 L1577.7,679.2 L1573.3,677.5 L1568.9,675.9 L1564.8,674.7 L1561.1,673.7 L1558.0,673.1 L1555.4,672.8 L1552.9,672.6 L1550.0,672.6 L1546.8,672.6 L1543.4,672.8 L1539.7,673.0 L1535.4,673.3 L1530.3,673.5 L1524.6,673.7 L1518.7,674.1 L1513.3,674.6 L1508.4,675.4 L1503.8,676.4 L1499.3,677.5 L1494.8,678.9 L1490.1,680.6 L1485.4,682.6 L1480.8,684.6 L1476.3,686.3 L1472.0,687.9 L1467.9,689.4 L1463.8,690.6 L1459.7,691.2 L1455.6,691.0 L1451.5,690.2 L1447.4,689.0 L1443.1,687.6 L1438.5,685.9 L1433.6,683.8 L1428.9,681.5 L1424.6,679.2 L1421.1,677.1 L1418.1,674.9 L1415.2,672.6 L1411.7,670.0 L1407.6,667.0 L1403.1,663.6 L1398.3,660.1 L1393.2,656.7 L1387.6,653.4 L1381.7,650.1 L1375.5,646.7 L1369.2,643.2 L1362.6,639.2 L1355.7,634.9 L1349.1,630.9 L1343.4,627.5 L1338.9,625.0 L1335.3,623.2 L1332.0,621.8 L1328.6,620.5 L1325.0,619.4 L1321.5,618.5 L1317.8,617.9 L1313.9,617.4 L1309.5,617.2 L1304.9,617.2 L1300.1,617.4 L1295.4,617.4 L1290.8,617.2 L1286.1,617.0 L1281.5,616.8 L1276.9,616.8 L1272.3,617.0 L1267.7,617.5 L1263.1,618.0 L1258.5,618.7 L1253.6,619.7 L1248.4,620.9 L1243.7,622.0 L1240.0,622.9 L1238.0,623.3 L1237.2,623.3 L1236.5,623.3 L1234.7,623.5 L1231.2,624.0 L1226.8,624.7 L1222.1,625.3 L1218.1,625.7 L1215.0,625.7 L1212.4,625.5 L1209.9,625.2 L1207.0,624.8 L1203.5,624.3 L1199.7,623.6 L1195.9,622.9 L1192.2,622.4 L1188.9,622.1 L1185.9,622.0 L1182.7,622.0 L1179.3,622.0 L1175.4,622.2 L1171.3,622.6 L1167.0,622.9 L1162.6,622.9 L1158.0,622.5 L1153.3,621.7 L1148.6,620.9 L1144.2,620.2 L1140.2,619.6 L1136.3,619.1 L1132.8,618.6 L1129.4,618.3 L1126.4,618.1 L1123.6,618.0 L1121.0,618.1 L1118.3,618.3 L1115.5,618.6 L1112.7,619.1 L1110.0,619.8 L1107.2,620.5 L1104.5,621.4 L1101.9,622.3 L1099.2,623.5 L1096.2,624.8 L1092.9,626.4 L1089.3,628.3 L1085.4,630.2 L1081.4,632.2 L1077.0,634.2 L1072.4,636.2 L1067.6,638.2 L1062.9,640.1 L1058.3,641.8 L1053.7,643.4 L1049.1,644.9 L1044.5,646.4 L1039.9,647.8 L1035.3,649.1 L1030.6,650.3 L1026.0,651.5 L1021.4,652.6 L1016.7,653.8 L1012.1,654.8 L1007.5,655.6 L1003.0,656.3 L998.5,656.8 L994.0,657.2 L989.1,657.5 L983.7,657.6 L978.0,657.5 L972.3,657.4 L966.9,657.5 L962.0,657.8 L957.5,658.3 L953.0,658.7 L948.5,658.9 L943.8,658.8 L939.1,658.6 L934.5,658.3 L930.2,658.0 L926.3,657.8 L922.8,657.5 L919.3,657.2 L915.4,656.7 L911.0,656.0 L906.2,655.2 L901.4,654.3 L897.0,653.4 L893.0,652.5 L889.4,651.6 L885.8,650.6 L882.2,649.7 L878.5,648.8 L874.8,647.9 L871.1,647.0 L867.4,646.4 L863.7,646.1 L860.0,646.0 L856.3,645.9 L852.6,645.6 L848.9,644.9 L845.1,643.9 L841.4,642.9 L837.9,641.9 L834.5,640.9 L831.2,639.8 L828.1,638.9 L825.0,638.3 L822.1,638.1 L819.5,638.3 L816.8,638.6 L813.9,639.0 L810.7,639.5 L807.4,640.0 L804.1,640.7 L800.9,641.4 L798.1,642.2 L795.5,643.1 L792.9,644.1 L789.9,645.1 L786.5,646.3 L782.7,647.5 L778.9,648.8 L775.1,650.1 L771.4,651.3 L767.7,652.4 L764.0,653.7 L760.3,655.2 L756.6,657.0 L753.0,659.1 L749.3,661.3 L745.6,663.5 L741.7,665.7 L737.7,667.9 L734.0,670.0 L730.8,671.9 L728.5,673.4 L726.9,674.6 L725.3,675.8 L723.4,677.4 L720.9,679.5 L718.2,682.0 L715.3,684.5 L712.3,686.6 L709.2,688.3 L706.1,689.7 L702.8,691.0 L699.4,692.2 L695.9,693.3 L692.2,694.2 L688.5,695.0 L684.6,695.9 L680.5,696.8 L676.2,697.6 L671.9,698.5 L668.0,699.2 L664.5,699.9 L661.3,700.6 L658.2,701.1 L655.1,701.4 L651.8,701.4 L648.5,701.3 L645.3,700.9 L642.2,700.5 L639.3,700.0 L636.4,699.5 L633.7,698.7 L631.1,697.7 L628.6,696.2 L626.3,694.4 L624.1,692.6 L622.0,691.0 L620.3,689.8 L618.8,688.8 L617.1,687.9 L614.7,686.6 L611.3,684.9 L607.2,683.0 L602.6,681.1 L598.0,679.3 L593.0,677.8 L587.6,676.3 L582.3,675.0 L577.7,673.7 L574.2,672.8 L571.5,672.1 L568.6,671.1 L564.8,669.1 L559.5,665.7 L553.1,661.4 L546.7,656.7 L540.8,652.5 L535.8,648.8 L531.2,645.2 L526.8,641.8 L522.3,638.6 L517.5,635.4 L512.6,632.3 L508.0,629.6 L503.9,627.5 L500.9,626.4 L498.6,626.0 L496.2,625.9 L492.8,625.7 L487.9,625.4 L482.0,625.1 L476.0,624.9 L470.6,624.8 L466.0,624.8 L461.8,624.8 L457.9,625.0 L454.0,625.7 L450.2,626.9 L446.5,628.5 L442.9,630.3 L439.2,632.2 L435.6,634.1 L432.1,636.0 L428.4,638.0 L424.5,640.1 L420.2,642.2 L415.7,644.4 L411.0,646.6 L406.0,648.8 L400.7,651.1 L395.2,653.4 L389.5,655.7 L383.9,658.0 L378.3,660.3 L372.7,662.7 L367.1,665.0 L361.7,667.2 L356.4,669.3 L351.2,671.2 L346.2,673.2 L341.4,675.5 L336.9,678.2 L332.7,681.1 L328.7,684.0 L324.8,686.6 L321.0,688.9 L317.4,691.0 L313.8,693.0 L310.2,694.6 L306.3,696.0 L302.3,697.1 L298.6,698.0 L295.4,698.6 L293.2,699.0 L291.7,699.1 L290.2,699.0 L288.0,698.6 L284.8,698.0 L281.1,697.1 L277.2,696.1 L273.3,694.9 L269.7,693.6 L266.1,692.3 L262.5,690.6 L258.5,688.5 L254.1,685.7 L249.5,682.5 L244.7,679.0 L240.0,675.5 L235.4,672.1 L230.8,668.6 L226.2,665.1 L221.6,661.7 L216.9,658.3 L212.1,655.0 L207.5,651.8 L203.1,648.8 L199.1,645.9 L195.4,643.2 L191.8,640.7 L188.3,638.6 L185.1,637.1 L182.1,636.1 L179.0,635.2 L175.4,634.0 L171.2,632.3 L166.5,630.5 L161.6,628.5 L156.9,626.6 L152.1,624.6 L147.1,622.4 L142.5,620.5 L138.5,619.2 L135.7,618.7 L133.6,618.8 L131.7,619.3 L129.2,619.8 L126.0,620.4 L122.4,621.2 L118.6,622.0 L114.5,622.9 L110.0,623.7 L105.1,624.6 L100.3,625.5 L96.0,626.6 L92.6,627.8 L89.7,629.1 L86.7,630.6 L83.1,632.2 L78.5,633.9 L73.3,635.7 L67.9,637.7 L62.8,640.1 L58.0,643.1 L53.2,646.5 L48.6,650.1 L44.3,653.4 L40.3,656.4 L36.4,659.4 L32.8,662.1 L29.5,664.5 L26.7,666.5 L24.2,668.1 L21.7,669.6 L18.5,670.9 L14.0,672.2 L8.6,673.5 L3.5,674.5 L0.0,675.2Z" fill="url(#rg)" clip-path="url(#cp_below)"/>
<polyline points="0.0,675.2 3.5,674.5 8.6,673.5 14.0,672.2 18.5,670.9 21.7,669.6 24.2,668.1 26.7,666.5 29.5,664.5 32.8,662.1 36.4,659.4 40.3,656.4 44.3,653.4 48.6,650.1 53.2,646.5 58.0,643.1 62.8,640.1 67.9,637.7 73.3,635.7 78.5,633.9 83.1,632.2 86.7,630.6 89.7,629.1 92.6,627.8 96.0,626.6 100.3,625.5 105.1,624.6 110.0,623.7 114.5,622.9 118.6,622.0 122.4,621.2 126.0,620.4 129.2,619.8 131.7,619.3 133.6,618.8 135.7,618.7 138.5,619.2 142.5,620.5 147.1,622.4 152.1,624.6 156.9,626.6 161.6,628.5 166.5,630.5 171.2,632.3 175.4,634.0 179.0,635.2 182.1,636.1 185.1,637.1 188.3,638.6 191.8,640.7 195.4,643.2 199.1,645.9 203.1,648.8 207.5,651.8 212.1,655.0 216.9,658.3 221.6,661.7 226.2,665.1 230.8,668.6 235.4,672.1 240.0,675.5 244.7,679.0 249.5,682.5 254.1,685.7 258.5,688.5 262.5,690.6 266.1,692.3 269.7,693.6 273.3,694.9 277.2,696.1 281.1,697.1 284.8,698.0 288.0,698.6 290.2,699.0 291.7,699.1 293.2,699.0 295.4,698.6 298.6,698.0 302.3,697.1 306.3,696.0 310.2,694.6 313.8,693.0 317.4,691.0 321.0,688.9 324.8,686.6 328.7,684.0 332.7,681.1 336.9,678.2 341.4,675.5 346.2,673.2 351.2,671.2 356.4,669.3 361.7,667.2 367.1,665.0 372.7,662.7 378.3,660.3 383.9,658.0 389.5,655.7 395.2,653.4 400.7,651.1 406.0,648.8 411.0,646.6 415.7,644.4 420.2,642.2 424.5,640.1 428.4,638.0 432.1,636.0 435.6,634.1 439.2,632.2 442.9,630.3 446.5,628.5 450.2,626.9 454.0,625.7 457.9,625.0 461.8,624.8 466.0,624.8 470.6,624.8 476.0,624.9 482.0,625.1 487.9,625.4 492.8,625.7 496.2,625.9 498.6,626.0 500.9,626.4 503.9,627.5 508.0,629.6 512.6,632.3 517.5,635.4 522.3,638.6 526.8,641.8 531.2,645.2 535.8,648.8 540.8,652.5 546.7,656.7 553.1,661.4 559.5,665.7 564.8,669.1 568.6,671.1 571.5,672.1 574.2,672.8 577.7,673.7 582.3,675.0 587.6,676.3 593.0,677.8 598.0,679.3 602.6,681.1 607.2,683.0 611.3,684.9 614.7,686.6 617.1,687.9 618.8,688.8 620.3,689.8 622.0,691.0 624.1,692.6 626.3,694.4 628.6,696.2 631.1,697.7 633.7,698.7 636.4,699.5 639.3,700.0 642.2,700.5 645.3,700.9 648.5,701.3 651.8,701.4 655.1,701.4 658.2,701.1 661.3,700.6 664.5,699.9 668.0,699.2 671.9,698.5 676.2,697.6 680.5,696.8 684.6,695.9 688.5,695.0 692.2,694.2 695.9,693.3 699.4,692.2 702.8,691.0 706.1,689.7 709.2,688.3 712.3,686.6 715.3,684.5 718.2,682.0 720.9,679.5 723.4,677.4 725.3,675.8 726.9,674.6 728.5,673.4 730.8,671.9 734.0,670.0 737.7,667.9 741.7,665.7 745.6,663.5 749.3,661.3 753.0,659.1 756.6,657.0 760.3,655.2 764.0,653.7 767.7,652.4 771.4,651.3 775.1,650.1 778.9,648.8 782.7,647.5 786.5,646.3 789.9,645.1 792.9,644.1 795.5,643.1 798.1,642.2 800.9,641.4 804.1,640.7 807.4,640.0 810.7,639.5 813.9,639.0 816.8,638.6 819.5,638.3 822.1,638.1 825.0,638.3 828.1,638.9 831.2,639.8 834.5,640.9 837.9,641.9 841.4,642.9 845.1,643.9 848.9,644.9 852.6,645.6 856.3,645.9 860.0,646.0 863.7,646.1 867.4,646.4 871.1,647.0 874.8,647.9 878.5,648.8 882.2,649.7 885.8,650.6 889.4,651.6 893.0,652.5 897.0,653.4 901.4,654.3 906.2,655.2 911.0,656.0 915.4,656.7 919.3,657.2 922.8,657.5 926.3,657.8 930.2,658.0 934.5,658.3 939.1,658.6 943.8,658.8 948.5,658.9 953.0,658.7 957.5,658.3 962.0,657.8 966.9,657.5 972.3,657.4 978.0,657.5 983.7,657.6 989.1,657.5 994.0,657.2 998.5,656.8 1003.0,656.3 1007.5,655.6 1012.1,654.8 1016.7,653.8 1021.4,652.6 1026.0,651.5 1030.6,650.3 1035.3,649.1 1039.9,647.8 1044.5,646.4 1049.1,644.9 1053.7,643.4 1058.3,641.8 1062.9,640.1 1067.6,638.2 1072.4,636.2 1077.0,634.2 1081.4,632.2 1085.4,630.2 1089.3,628.3 1092.9,626.4 1096.2,624.8 1099.2,623.5 1101.9,622.3 1104.5,621.4 1107.2,620.5 1110.0,619.8 1112.7,619.1 1115.5,618.6 1118.3,618.3 1121.0,618.1 1123.6,618.0 1126.4,618.1 1129.4,618.3 1132.8,618.6 1136.3,619.1 1140.2,619.6 1144.2,620.2 1148.6,620.9 1153.3,621.7 1158.0,622.5 1162.6,622.9 1167.0,622.9 1171.3,622.6 1175.4,622.2 1179.3,622.0 1182.7,622.0 1185.9,622.0 1188.9,622.1 1192.2,622.4 1195.9,622.9 1199.7,623.6 1203.5,624.3 1207.0,624.8 1209.9,625.2 1212.4,625.5 1215.0,625.7 1218.1,625.7 1222.1,625.3 1226.8,624.7 1231.2,624.0 1234.7,623.5 1236.5,623.3 1237.2,623.3 1238.0,623.3 1240.0,622.9 1243.7,622.0 1248.4,620.9 1253.6,619.7 1258.5,618.7 1263.1,618.0 1267.7,617.5 1272.3,617.0 1276.9,616.8 1281.5,616.8 1286.1,617.0 1290.8,617.2 1295.4,617.4 1300.1,617.4 1304.9,617.2 1309.5,617.2 1313.9,617.4 1317.8,617.9 1321.5,618.5 1325.0,619.4 1328.6,620.5 1332.0,621.8 1335.3,623.2 1338.9,625.0 1343.4,627.5 1349.1,630.9 1355.7,634.9 1362.6,639.2 1369.2,643.2 1375.5,646.7 1381.7,650.1 1387.6,653.4 1393.2,656.7 1398.3,660.1 1403.1,663.6 1407.6,667.0 1411.7,670.0 1415.2,672.6 1418.1,674.9 1421.1,677.1 1424.6,679.2 1428.9,681.5 1433.6,683.8 1438.5,685.9 1443.1,687.6 1447.4,689.0 1451.5,690.2 1455.6,691.0 1459.7,691.2 1463.8,690.6 1467.9,689.4 1472.0,687.9 1476.3,686.3 1480.8,684.6 1485.4,682.6 1490.1,680.6 1494.8,678.9 1499.3,677.5 1503.8,676.4 1508.4,675.4 1513.3,674.6 1518.7,674.1 1524.6,673.7 1530.3,673.5 1535.4,673.3 1539.7,673.0 1543.4,672.8 1546.8,672.6 1550.0,672.6 1552.9,672.6 1555.4,672.8 1558.0,673.1 1561.1,673.7 1564.8,674.7 1568.9,675.9 1573.3,677.5 1577.7,679.2 1582.2,681.2 1586.8,683.6 1591.5,686.0 1596.2,688.5 1600.8,691.0 1605.4,693.5 1610.0,696.0 1614.6,698.6 1619.2,701.2 1623.8,703.8 1628.5,706.3 1633.1,708.8 1637.9,711.3 1642.7,713.8 1647.4,716.0 1651.6,717.6 1655.2,718.5 1658.3,718.8 1661.3,718.8 1664.5,718.4 1668.0,717.7 1671.5,716.7 1675.2,715.4 1679.2,714.0 1683.6,712.4 1688.4,710.6 1693.2,708.7 1697.7,706.9 1701.7,705.1 1705.5,703.4 1709.0,701.8 1712.5,700.5 1715.7,699.6 1718.7,699.0 1721.8,698.7 1725.4,698.6 1729.7,698.7 1734.5,699.1 1739.4,699.7 1743.9,700.5 1747.9,701.6 1751.6,702.9 1755.1,704.3 1758.6,706.0 1762.0,708.0 1765.3,710.2 1768.5,712.4 1771.6,714.3 1774.5,715.9 1777.2,717.3 1779.9,718.3 1782.6,718.9 1785.4,718.8 1788.3,718.1 1791.0,717.1 1793.7,716.2 1796.2,715.3 1798.7,714.4 1801.0,713.4 1803.0,712.5 1804.8,711.7 1806.3,710.9 1807.6,710.2 1808.5,709.7" fill="none" stroke="#e01020" stroke-width="1.2"/>
<polyline points="0.0,668.2 7.4,664.8 14.8,668.5 29.5,643.2 45.2,627.2 55.4,625.3 66.5,622.9 72.9,623.8 81.2,620.2 92.3,615.0 96.0,615.0 108.9,622.4 118.2,616.5 130.2,611.8 138.5,618.0 153.3,634.9 160.6,638.6 168.0,646.4 175.4,646.9 181.9,645.1 188.3,646.9 195.7,655.2 208.6,671.9 218.8,687.6 224.3,688.5 232.6,694.9 243.7,698.6 254.8,705.5 265.9,704.2 277.0,704.7 284.3,703.2 290.8,703.6 296.3,698.6 304.7,694.0 310.0,689.4 322.9,673.7 339.5,658.0 346.9,658.6 355.2,662.6 361.7,660.8 370.9,653.4 383.9,646.9 391.2,641.4 398.6,637.1 406.0,637.7 413.4,634.0 420.8,627.5 428.2,619.8 435.6,616.8 442.0,617.4 449.4,615.0 456.8,615.9 463.3,621.1 470.6,624.8 492.8,626.1 502.0,633.1 509.4,639.5 518.6,651.5 527.9,659.9 537.1,670.0 546.3,677.4 557.4,687.6 564.8,688.8 572.2,685.7 578.7,682.6 585.1,684.8 591.6,685.7 598.0,690.3 605.4,698.6 616.5,708.8 630.2,711.6 637.5,708.4 644.9,708.4 653.2,704.2 658.8,697.7 668.0,695.9 679.1,693.1 690.2,688.1 695.7,686.3 703.1,680.2 710.5,673.3 716.0,666.3 723.4,655.2 732.6,649.3 740.0,646.9 752.9,641.9 760.3,640.8 767.7,641.9 775.1,637.7 786.2,635.9 793.6,634.0 802.8,632.7 812.0,635.9 825.0,638.3 832.3,645.1 839.7,652.1 847.1,651.9 854.5,648.2 860.0,646.9 869.3,650.6 882.2,660.4 897.0,658.9 908.0,660.4 922.8,660.8 933.9,661.7 941.1,663.5 950.3,659.9 957.7,655.6 968.8,651.9 979.9,657.1 990.9,659.9 1000.2,656.7 1007.5,654.3 1018.6,652.5 1029.7,643.2 1042.6,636.8 1051.9,634.6 1066.6,629.8 1077.7,622.0 1086.9,618.3 1094.3,611.8 1103.6,609.4 1109.1,609.4 1120.2,612.8 1129.4,617.9 1136.8,622.9 1151.6,626.6 1157.1,625.7 1166.3,621.6 1177.4,620.5 1184.8,622.0 1194.0,626.6 1207.0,629.8 1212.5,628.5 1223.6,623.8 1234.7,619.2 1240.0,617.4 1251.1,613.7 1262.2,613.1 1273.2,614.2 1280.6,613.7 1288.0,615.0 1295.4,617.9 1310.2,617.9 1317.5,619.8 1328.6,631.2 1339.7,641.4 1350.8,647.5 1361.9,656.2 1374.8,664.5 1382.2,665.9 1393.2,675.5 1402.5,684.8 1411.7,692.5 1420.9,695.9 1426.5,697.3 1433.9,695.9 1441.3,698.6 1448.6,697.3 1454.2,695.5 1461.6,689.4 1470.8,680.2 1481.9,671.9 1491.1,668.5 1502.2,670.4 1513.3,672.8 1520.6,671.5 1531.7,672.8 1541.0,669.1 1548.3,672.2 1561.1,673.3 1568.5,677.4 1577.7,687.6 1586.9,698.6 1592.5,702.3 1599.9,711.0 1607.2,717.1 1616.5,719.5 1625.7,721.3 1634.9,726.9 1642.3,727.6 1649.7,728.7 1657.1,722.6 1664.5,716.2 1675.6,706.9 1684.8,700.5 1692.2,698.6 1701.4,692.2 1708.8,688.8 1714.3,688.8 1723.6,694.0 1729.1,698.6 1736.5,705.5 1743.9,706.9 1753.1,713.9 1760.5,720.8 1766.0,728.7 1773.4,730.0 1780.8,726.9 1788.2,720.8 1797.4,706.9 1808.5,689.4" fill="none" stroke="#f0f0f0" stroke-width="1.2"/>
<rect x="1648" y="601" width="189" height="62" fill="#2a2a2a" fill-opacity="0.4"/>
<g style="filter:grayscale(1)"><text transform="translate(1730 620) scale(1 0.9)" font-family="'Liberation Mono'" font-size="12.4" letter-spacing="0.55" fill="#f0f0f0">SPX</text></g>
<rect x="1656" y="626.5" width="12" height="11.5" fill="#fff"/>
<rect x="1656" y="642.5" width="12" height="11.5" fill="#f01010"/>
<g style="filter:grayscale(1)"><text transform="translate(1671.5 635.9) scale(1 0.9)" font-family="'Liberation Mono'" font-size="12.4" letter-spacing="0.55" fill="#f0f0f0">MACD(12,26)</text></g>
<g style="filter:grayscale(1)"><text transform="translate(1766 635.9) scale(1 0.9)" font-family="'Liberation Mono'" font-size="12.4" letter-spacing="0.55" fill="#f0f0f0">-13.443</text></g>
<g style="filter:grayscale(1)"><text transform="translate(1671.5 651.8) scale(1 0.9)" font-family="'Liberation Mono'" font-size="12.4" letter-spacing="0.55" fill="#f0f0f0">Sig(9)</text></g>
<g style="filter:grayscale(1)"><text transform="translate(1766 651.8) scale(1 0.9)" font-family="'Liberation Mono'" font-size="12.4" letter-spacing="0.55" fill="#f0f0f0">-33.8164</text></g>
<path d="M1841.5 0V439.5M1841.5 445.5V591.5M1841.5 597.5V744" stroke="#f0f0f0" stroke-width="1.2"/>
<path d="M1842.0 36.5L1850.0 39.5L1842.0 42.5z" fill="#f4f4f4"/>
<g style="filter:grayscale(1)"><text transform="translate(1851 42.8) scale(1 0.9)" font-family="'Liberation Mono'" font-size="12.4" letter-spacing="0.55" fill="#f0f0f0">4600</text></g>
<path d="M1842.0 119.5L1850.0 122.5L1842.0 125.5z" fill="#f4f4f4"/>
<g style="filter:grayscale(1)"><text transform="translate(1851 125.8) scale(1 0.9)" font-family="'Liberation Mono'" font-size="12.4" letter-spacing="0.55" fill="#f0f0f0">4400</text></g>
<path d="M1842.0 202.5L1850.0 205.5L1842.0 208.5z" fill="#f4f4f4"/>
<g style="filter:grayscale(1)"><text transform="translate(1851 208.8) scale(1 0.9)" font-family="'Liberation Mono'" font-size="12.4" letter-spacing="0.55" fill="#f0f0f0">4200</text></g>
<path d="M1842.0 286.5L1850.0 289.5L1842.0 292.5z" fill="#f4f4f4"/>
<g style="filter:grayscale(1)"><text transform="translate(1851 292.8) scale(1 0.9)" font-family="'Liberation Mono'" font-size="12.4" letter-spacing="0.55" fill="#f0f0f0">4000</text></g>
<path d="M1842.0 369.5L1850.0 372.5L1842.0 375.5z" fill="#f4f4f4"/>
<g style="filter:grayscale(1)"><text transform="translate(1851 375.8) scale(1 0.9)" font-family="'Liberation Mono'" font-size="12.4" letter-spacing="0.55" fill="#f0f0f0">3800</text></g>
<line x1="1841.5" y1="81.5" x2="1845.5" y2="81.5" stroke="#f0f0f0" stroke-width="1"/>
<line x1="1841.5" y1="164.5" x2="1845.5" y2="164.5" stroke="#f0f0f0" stroke-width="1"/>
<line x1="1841.5" y1="247.5" x2="1845.5" y2="247.5" stroke="#f0f0f0" stroke-width="1"/>
<line x1="1841.5" y1="330.5" x2="1845.5" y2="330.5" stroke="#f0f0f0" stroke-width="1"/>
<line x1="1841.5" y1="413.5" x2="1845.5" y2="413.5" stroke="#f0f0f0" stroke-width="1"/>
<path d="M1842.0 483.5L1850.0 486.5L1842.0 489.5z" fill="#f4f4f4"/>
<g style="filter:grayscale(1)"><text transform="translate(1851 489.8) scale(1 0.9)" font-family="'Liberation Mono'" font-size="12.4" letter-spacing="0.55" fill="#f0f0f0">2B</text></g>
<path d="M1842.0 530.5L1850.0 533.5L1842.0 536.5z" fill="#f4f4f4"/>
<g style="filter:grayscale(1)"><text transform="translate(1851 536.8) scale(1 0.9)" font-family="'Liberation Mono'" font-size="12.4" letter-spacing="0.55" fill="#f0f0f0">1B</text></g>
<path d="M1842.0 576.5L1850.0 579.5L1842.0 582.5z" fill="#f4f4f4"/>
<g style="filter:grayscale(1)"><text transform="translate(1851 582.8) scale(1 0.9)" font-family="'Liberation Mono'" font-size="12.4" letter-spacing="0.55" fill="#f0f0f0">0</text></g>
<line x1="1841.5" y1="463.5" x2="1845.5" y2="463.5" stroke="#f0f0f0" stroke-width="1"/>
<line x1="1841.5" y1="510.5" x2="1845.5" y2="510.5" stroke="#f0f0f0" stroke-width="1"/>
<line x1="1841.5" y1="556.5" x2="1845.5" y2="556.5" stroke="#f0f0f0" stroke-width="1"/>
<path d="M1842.0 623.5L1850.0 626.5L1842.0 629.5z" fill="#f4f4f4"/>
<g style="filter:grayscale(1)"><text transform="translate(1851 629.8) scale(1 0.9)" font-family="'Liberation Mono'" font-size="12.4" letter-spacing="0.55" fill="#f0f0f0">50</text></g>
<path d="M1842.0 672.5L1850.0 675.5L1842.0 678.5z" fill="#f4f4f4"/>
<g style="filter:grayscale(1)"><text transform="translate(1851 678.8) scale(1 0.9)" font-family="'Liberation Mono'" font-size="12.4" letter-spacing="0.55" fill="#f0f0f0">0</text></g>
<path d="M1842.0 722.5L1850.0 725.5L1842.0 728.5z" fill="#f4f4f4"/>
<g style="filter:grayscale(1)"><text transform="translate(1851 728.8) scale(1 0.9)" font-family="'Liberation Mono'" font-size="12.4" letter-spacing="0.55" fill="#f0f0f0">-50</text></g>
<line x1="1841.5" y1="601.5" x2="1845.5" y2="601.5" stroke="#f0f0f0" stroke-width="1"/>
<line x1="1841.5" y1="651.5" x2="1845.5" y2="651.5" stroke="#f0f0f0" stroke-width="1"/>
<line x1="1841.5" y1="700.5" x2="1845.5" y2="700.5" stroke="#f0f0f0" stroke-width="1"/>
<path d="M1843 136.25L1848 128H1916V144.5H1848z" fill="#fafafa"/>
<g style="filter:grayscale(1)"><text transform="translate(1851 139.7) scale(1 0.9)" font-family="'Liberation Mono'" font-size="12.4" letter-spacing="0.55" fill="#111">4365.98</text></g>
<path d="M1843 184.75L1848 176H1916V193.5H1848z" fill="#f4e20c"/>
<g style="filter:grayscale(1)"><text transform="translate(1851 188.2) scale(1 0.9)" font-family="'Liberation Mono'" font-size="12.4" letter-spacing="0.55" fill="#111">4249.58</text></g>
<path d="M1843 174.5L1848 166H1916V183H1848z" fill="#e6089a"/>
<g style="filter:grayscale(1)"><text transform="translate(1851 177.9) scale(1 0.9)" font-family="'Liberation Mono'" font-size="12.4" letter-spacing="0.55" fill="#fff">4276.14</text></g>
<path d="M1843 547L1848 538H1916V556H1848z" fill="#fafafa"/>
<path d="M1842.5 551.5L1847.5 542.5H1920V560.2H1848z" fill="#fafafa" stroke="#000" stroke-width="0.8"/>
<g style="filter:grayscale(1)"><text transform="translate(1851 555.2) scale(1 0.9)" font-family="'Liberation Mono'" font-size="12.4" letter-spacing="0.55" fill="#111">0.600B</text></g>
<path d="M1843 689.5L1848 681H1916V698H1848z" fill="#fafafa"/>
<g style="filter:grayscale(1)"><text transform="translate(1851 692.9) scale(1 0.9)" font-family="'Liberation Mono'" font-size="12.4" letter-spacing="0.55" fill="#111">-13.443</text></g>
<path d="M1843 709.5L1848 701H1916V718H1848z" fill="#f80808"/>
<g style="filter:grayscale(1)"><text transform="translate(1851 712.9) scale(1 0.9)" font-family="'Liberation Mono'" font-size="12.4" letter-spacing="0.55" fill="#fff">-33.8164</text></g>
<line x1="0" y1="743.5" x2="1842" y2="743.5" stroke="#f0f0f0" stroke-width="1.3"/>
<line x1="117.5" y1="743" x2="117.5" y2="747" stroke="#f0f0f0" stroke-width="1"/>
<line x1="269.5" y1="743" x2="269.5" y2="747" stroke="#f0f0f0" stroke-width="1"/>
<line x1="413.5" y1="743" x2="413.5" y2="747" stroke="#f0f0f0" stroke-width="1"/>
<line x1="551.5" y1="743" x2="551.5" y2="747" stroke="#f0f0f0" stroke-width="1"/>
<line x1="717.5" y1="743" x2="717.5" y2="747" stroke="#f0f0f0" stroke-width="1"/>
<line x1="854.5" y1="743" x2="854.5" y2="747" stroke="#f0f0f0" stroke-width="1"/>
<line x1="1013.5" y1="743" x2="1013.5" y2="747" stroke="#f0f0f0" stroke-width="1"/>
<line x1="1165.5" y1="743" x2="1165.5" y2="747" stroke="#f0f0f0" stroke-width="1"/>
<line x1="1310.5" y1="743" x2="1310.5" y2="747" stroke="#f0f0f0" stroke-width="1"/>
<line x1="1476.5" y1="743" x2="1476.5" y2="747" stroke="#f0f0f0" stroke-width="1"/>
<line x1="1621.5" y1="743" x2="1621.5" y2="747" stroke="#f0f0f0" stroke-width="1"/>
<line x1="1780.5" y1="743" x2="1780.5" y2="747" stroke="#f0f0f0" stroke-width="1"/>
<line x1="269.5" y1="760" x2="269.5" y2="777" stroke="#a0a0a0" stroke-width="1"/>
<g style="filter:grayscale(1)"><text transform="translate(41 755.9) scale(1 0.9)" font-family="'Liberation Mono'" font-size="12.4" letter-spacing="0.55" fill="#f0f0f0" text-anchor="middle">Nov</text></g>
<g style="filter:grayscale(1)"><text transform="translate(193.5 755.9) scale(1 0.9)" font-family="'Liberation Mono'" font-size="12.4" letter-spacing="0.55" fill="#f0f0f0" text-anchor="middle">Dec</text></g>
<g style="filter:grayscale(1)"><text transform="translate(341.5 755.9) scale(1 0.9)" font-family="'Liberation Mono'" font-size="12.4" letter-spacing="0.55" fill="#f0f0f0" text-anchor="middle">Jan</text></g>
<g style="filter:grayscale(1)"><text transform="translate(482.5 755.9) scale(1 0.9)" font-family="'Liberation Mono'" font-size="12.4" letter-spacing="0.55" fill="#f0f0f0" text-anchor="middle">Feb</text></g>
<g style="filter:grayscale(1)"><text transform="translate(634.5 755.9) scale(1 0.9)" font-family="'Liberation Mono'" font-size="12.4" letter-spacing="0.55" fill="#f0f0f0" text-anchor="middle">Mar</text></g>
<g style="filter:grayscale(1)"><text transform="translate(786.0 755.9) scale(1 0.9)" font-family="'Liberation Mono'" font-size="12.4" letter-spacing="0.55" fill="#f0f0f0" text-anchor="middle">Apr</text></g>
<g style="filter:grayscale(1)"><text transform="translate(934.0 755.9) scale(1 0.9)" font-family="'Liberation Mono'" font-size="12.4" letter-spacing="0.55" fill="#f0f0f0" text-anchor="middle">May</text></g>
<g style="filter:grayscale(1)"><text transform="translate(1089.5 755.9) scale(1 0.9)" font-family="'Liberation Mono'" font-size="12.4" letter-spacing="0.55" fill="#f0f0f0" text-anchor="middle">Jun</text></g>
<g style="filter:grayscale(1)"><text transform="translate(1238.0 755.9) scale(1 0.9)" font-family="'Liberation Mono'" font-size="12.4" letter-spacing="0.55" fill="#f0f0f0" text-anchor="middle">Jul</text></g>
<g style="filter:grayscale(1)"><text transform="translate(1393.5 755.9) scale(1 0.9)" font-family="'Liberation Mono'" font-size="12.4" letter-spacing="0.55" fill="#f0f0f0" text-anchor="middle">Aug</text></g>
<g style="filter:grayscale(1)"><text transform="translate(1549.0 755.9) scale(1 0.9)" font-family="'Liberation Mono'" font-size="12.4" letter-spacing="0.55" fill="#f0f0f0" text-anchor="middle">Sep</text></g>
<g style="filter:grayscale(1)"><text transform="translate(1701.0 755.9) scale(1 0.9)" font-family="'Liberation Mono'" font-size="12.4" letter-spacing="0.55" fill="#f0f0f0" text-anchor="middle">Oct</text></g>
<g style="filter:grayscale(1)"><text transform="translate(134.5 771.7) scale(1 0.9)" font-family="'Liberation Mono'" font-size="12.4" letter-spacing="0.55" fill="#f0f0f0" text-anchor="middle">2022</text></g>
<g style="filter:grayscale(1)"><text transform="translate(1055 771.7) scale(1 0.9)" font-family="'Liberation Mono'" font-size="12.4" letter-spacing="0.55" fill="#f0f0f0" text-anchor="middle">2023</text></g>
<g style="filter:grayscale(1)"><text transform="translate(2 790.8) scale(1 0.92)" font-family="'Liberation Mono'" font-size="12.2" letter-spacing="-0.32" fill="#f0f0f0" xml:space="preserve">SPX Index (S&amp;P 500 INDEX)  Daily 07NOV2022-07NOV2023</text></g>
<g style="filter:grayscale(1)"><text transform="translate(936.5 790.8) scale(1 0.92)" font-family="'Liberation Mono'" font-size="12.2" letter-spacing="-0.32" fill="#f0f0f0">Copyright© 2023 Bloomberg Finance L.P.</text></g>
<g style="filter:grayscale(1)"><text transform="translate(1774.5 790.8) scale(1 0.92)" font-family="'Liberation Mono'" font-size="12.2" letter-spacing="-0.32" fill="#f0f0f0">07-Nov-2023 10:30:28</text></g>
</svg>
</body></html>
